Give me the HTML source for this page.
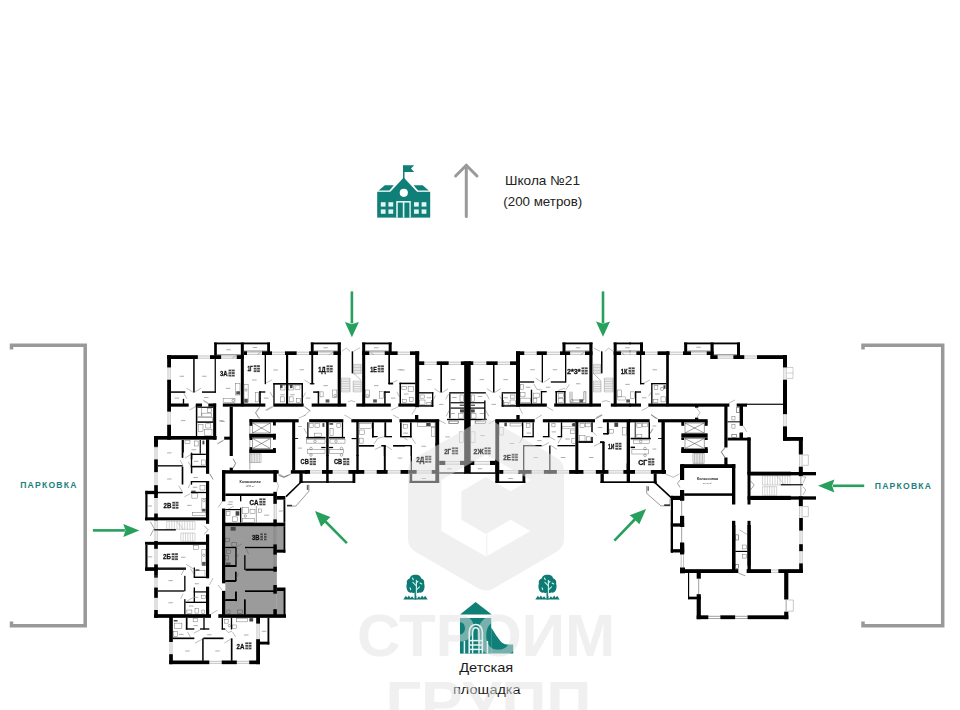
<!DOCTYPE html>
<html lang="ru">
<head>
<meta charset="utf-8">
<title>План этажа</title>
<style>
html,body{margin:0;padding:0;background:#fff;}
body{width:960px;height:710px;overflow:hidden;position:relative;font-family:"Liberation Sans",sans-serif;}
svg{position:absolute;left:0;top:0;display:block;}
svg text{font-family:"Liberation Sans",sans-serif;}
</style>
</head>
<body>
<svg width="960" height="710" viewBox="0 0 960 710">
<rect width="960" height="710" fill="#fff"/>

<!-- parking brackets -->
<g fill="none" stroke="#999" stroke-width="3.5" stroke-linejoin="miter">
<polyline points="11.5,349.5 11.5,345.25 85.2,345.25 85.2,625.75 11.5,625.75 11.5,621.5"/>
<polyline points="863,349.5 863,345.25 942.7,345.25 942.7,625.75 863,625.75 863,621.5"/>
</g>

<!-- parking labels -->
<g font-size="8.6" font-weight="bold" fill="#1b7f7c" letter-spacing="1.22">
<text x="20.2" y="488.4">ПАРКОВКА</text>
<text x="874.8" y="488.6">ПАРКОВКА</text>
</g>

<!-- school -->
<g id="school" fill="#0f7f78">
<rect x="403" y="165.2" width="1.5" height="14"/>
<path d="M404,165.2 L414.2,165.2 L411,168.6 L414.2,172 L404,172 Z"/>
<path d="M403.7,177.4 L389.7,192.6 L417.7,192.6 Z"/>
<path d="M384.8,185.3 L393.8,185.3 L389.4,190.6 L378.6,190.6 Z"/>
<path d="M422.6,185.3 L413.6,185.3 L418,190.6 L428.8,190.6 Z"/>
<rect x="377.2" y="191.8" width="53" height="25.8"/>
<circle cx="403.8" cy="192.8" r="4.1" fill="#fff"/>
<g fill="#e4f6f3">
<rect x="380.8" y="202.2" width="4.8" height="4.4"/><rect x="388.4" y="202.2" width="4.8" height="4.4"/>
<rect x="380.8" y="209.4" width="4.8" height="4.4"/><rect x="388.4" y="209.4" width="4.8" height="4.4"/>
<rect x="414" y="202.2" width="4.8" height="4.4"/><rect x="421.6" y="202.2" width="4.8" height="4.4"/>
<rect x="414" y="209.4" width="4.8" height="4.4"/><rect x="421.6" y="209.4" width="4.8" height="4.4"/>
<rect x="396.2" y="201" width="14.6" height="16.6"/>
</g>
<rect x="397.8" y="202.6" width="5" height="15"/>
<rect x="404.4" y="202.6" width="5" height="15"/>
</g>

<!-- gray up arrow -->
<g fill="none" stroke="#9a9a9a" stroke-width="3" stroke-linecap="round" stroke-linejoin="round">
<line x1="466.3" y1="216.5" x2="466.3" y2="165.5"/>
<polyline points="455.6,176 466.3,165.2 477,176"/>
</g>

<g font-size="13.2" fill="#222">
<text x="542.5" y="184.8" text-anchor="middle" textLength="75" lengthAdjust="spacingAndGlyphs">Школа №21</text>
<text x="542.8" y="205.6" text-anchor="middle" textLength="79" lengthAdjust="spacingAndGlyphs">(200 метров)</text>
</g>

<defs><filter id="soft" x="0" y="0" width="960" height="710" filterUnits="userSpaceOnUse"><feGaussianBlur stdDeviation="0.38"/></filter></defs>
<!-- PLAN -->
<g id="plan" filter="url(#soft)">
<rect x="214.17" y="342.5" width="55.83" height="1.83" fill="#000"/>
<rect x="214.17" y="342.5" width="2.67" height="13" fill="#000"/>
<rect x="267.17" y="342.5" width="2.83" height="12.17" fill="#000"/>
<rect x="240.83" y="342.5" width="3" height="63.83" fill="#000"/>
<line x1="216.83" y1="354.67" x2="240.83" y2="354.67" stroke="#444" stroke-width="0.6"/>
<line x1="243.83" y1="351" x2="267.17" y2="351" stroke="#444" stroke-width="0.6"/>
<rect x="167.17" y="355.17" width="30.67" height="3.83" fill="#000"/>
<rect x="210" y="355.17" width="11.17" height="3.83" fill="#000"/>
<rect x="236.67" y="355.17" width="7.17" height="3.83" fill="#000"/>
<line x1="197.83" y1="356" x2="210" y2="356" stroke="#777" stroke-width="0.45"/>
<line x1="197.83" y1="358.17" x2="210" y2="358.17" stroke="#777" stroke-width="0.45"/>
<line x1="221.17" y1="356" x2="236.67" y2="356" stroke="#777" stroke-width="0.45"/>
<line x1="221.17" y1="358.17" x2="236.67" y2="358.17" stroke="#777" stroke-width="0.45"/>
<rect x="243.83" y="351.33" width="3.17" height="3.67" fill="#000"/>
<rect x="262" y="351.33" width="10" height="3.67" fill="#000"/>
<rect x="285" y="351.33" width="11.67" height="3.67" fill="#000"/>
<line x1="247" y1="352.17" x2="262" y2="352.17" stroke="#777" stroke-width="0.45"/>
<line x1="247" y1="354.33" x2="262" y2="354.33" stroke="#777" stroke-width="0.45"/>
<line x1="272" y1="352.17" x2="285" y2="352.17" stroke="#777" stroke-width="0.45"/>
<line x1="272" y1="354.33" x2="285" y2="354.33" stroke="#777" stroke-width="0.45"/>
<line x1="296.67" y1="352.17" x2="310" y2="352.17" stroke="#777" stroke-width="0.45"/>
<line x1="296.67" y1="354.33" x2="310" y2="354.33" stroke="#777" stroke-width="0.45"/>
<rect x="167.17" y="355.17" width="3.83" height="12.33" fill="#000"/>
<rect x="167.17" y="379.67" width="3.83" height="32" fill="#000"/>
<rect x="167.17" y="424.67" width="3.83" height="15" fill="#000"/>
<line x1="168" y1="367.5" x2="168" y2="379.67" stroke="#777" stroke-width="0.45"/>
<line x1="170.17" y1="367.5" x2="170.17" y2="379.67" stroke="#777" stroke-width="0.45"/>
<line x1="168" y1="411.67" x2="168" y2="424.67" stroke="#777" stroke-width="0.45"/>
<line x1="170.17" y1="411.67" x2="170.17" y2="424.67" stroke="#777" stroke-width="0.45"/>
<rect x="154.17" y="436" width="62.5" height="3.67" fill="#000"/>
<rect x="154.17" y="436" width="3.67" height="11.17" fill="#000"/>
<rect x="193.17" y="359" width="1.5" height="33.5" fill="#000"/>
<rect x="171" y="391.33" width="14.33" height="1.5" fill="#000"/>
<rect x="202" y="391.33" width="13.83" height="1.5" fill="#000"/>
<rect x="182.83" y="398.83" width="1.33" height="5" fill="#000"/>
<rect x="171" y="403.5" width="17.67" height="3.17" fill="#000"/>
<rect x="195.83" y="403.5" width="6.17" height="3.17" fill="#000"/>
<rect x="208.33" y="403.5" width="7.83" height="3.17" fill="#000"/>
<rect x="213.17" y="403.5" width="3" height="36.17" fill="#000"/>
<rect x="195.83" y="404.67" width="1.33" height="31.67" fill="#000"/>
<rect x="197.17" y="421.33" width="16.17" height="1.5" fill="#000"/>
<rect x="197.17" y="406.67" width="16.17" height="1.17" fill="#000"/>
<rect x="222.83" y="403.5" width="42.5" height="3.17" fill="#000"/>
<rect x="273.33" y="403.5" width="30.33" height="3.17" fill="#000"/>
<rect x="229.67" y="406.67" width="3.17" height="49.33" fill="#000"/>
<rect x="224.17" y="436.67" width="5.83" height="3" fill="#000"/>
<rect x="264.67" y="355" width="1.33" height="29.17" fill="#000"/>
<rect x="286" y="355" width="2.17" height="49.67" fill="#000"/>
<rect x="273.33" y="383" width="29.67" height="1.67" fill="#000"/>
<rect x="273.33" y="383" width="1.33" height="20.83" fill="#000"/>
<rect x="301.5" y="383" width="1.5" height="20.83" fill="#000"/>
<rect x="259.17" y="391.33" width="1.67" height="12.5" fill="#000"/>
<rect x="259.17" y="391.33" width="6.17" height="1.33" fill="#000"/>
<rect x="249.5" y="419.17" width="49.17" height="3.17" fill="#000"/>
<rect x="249.5" y="419.17" width="2.67" height="6.67" fill="#000"/>
<rect x="249.5" y="433.83" width="2.67" height="6.17" fill="#000"/>
<rect x="249.5" y="447.17" width="2.67" height="5.83" fill="#000"/>
<line x1="249.83" y1="422.33" x2="249.83" y2="469.67" stroke="#555" stroke-width="0.5"/>
<rect x="249.5" y="433.83" width="26.33" height="3.83" fill="#000"/>
<rect x="249.5" y="449.33" width="26.33" height="3.67" fill="#000"/>
<rect x="273" y="421.33" width="2.83" height="4.17" fill="#000"/>
<rect x="273" y="433.83" width="2.83" height="5.83" fill="#000"/>
<rect x="273" y="448" width="2.83" height="5" fill="#000"/>
<rect x="252.67" y="423" width="17.67" height="10" fill="none" stroke="#444" stroke-width="0.5"/>
<line x1="252.67" y1="423" x2="270.33" y2="433" stroke="#444" stroke-width="0.5"/>
<line x1="252.67" y1="433" x2="270.33" y2="423" stroke="#444" stroke-width="0.5"/>
<rect x="252.67" y="438.5" width="17.67" height="10" fill="none" stroke="#444" stroke-width="0.5"/>
<line x1="252.67" y1="438.5" x2="270.33" y2="448.5" stroke="#444" stroke-width="0.5"/>
<line x1="252.67" y1="448.5" x2="270.33" y2="438.5" stroke="#444" stroke-width="0.5"/>
<rect x="292.17" y="421.33" width="3" height="49.17" fill="#000"/>
<rect x="310.83" y="342.5" width="30" height="1.83" fill="#000"/>
<rect x="310.83" y="342.5" width="2.83" height="12.17" fill="#000"/>
<rect x="337.67" y="342.5" width="3.17" height="63.83" fill="#000"/>
<line x1="313.67" y1="351" x2="337.67" y2="351" stroke="#444" stroke-width="0.6"/>
<rect x="309.17" y="351.33" width="8.83" height="3.67" fill="#000"/>
<rect x="333.33" y="351.33" width="7.5" height="3.67" fill="#000"/>
<line x1="318" y1="352.17" x2="333.33" y2="352.17" stroke="#777" stroke-width="0.45"/>
<line x1="318" y1="354.33" x2="333.33" y2="354.33" stroke="#777" stroke-width="0.45"/>
<rect x="351.67" y="351.33" width="1.5" height="22" fill="#000"/>
<line x1="353.17" y1="364.33" x2="361.17" y2="364.33" stroke="#777" stroke-width="0.4"/>
<line x1="353.17" y1="365.89" x2="361.17" y2="365.89" stroke="#777" stroke-width="0.4"/>
<line x1="353.17" y1="367.44" x2="361.17" y2="367.44" stroke="#777" stroke-width="0.4"/>
<line x1="353.17" y1="369" x2="361.17" y2="369" stroke="#777" stroke-width="0.4"/>
<line x1="353.17" y1="370.56" x2="361.17" y2="370.56" stroke="#777" stroke-width="0.4"/>
<line x1="353.17" y1="372.11" x2="361.17" y2="372.11" stroke="#777" stroke-width="0.4"/>
<line x1="353.17" y1="373.67" x2="361.17" y2="373.67" stroke="#777" stroke-width="0.4"/>
<line x1="353.17" y1="364.33" x2="353.17" y2="373.67" stroke="#777" stroke-width="0.4"/>
<line x1="361.17" y1="364.33" x2="361.17" y2="373.67" stroke="#777" stroke-width="0.4"/>
<line x1="341.33" y1="378.17" x2="350" y2="378.17" stroke="#777" stroke-width="0.4"/>
<line x1="341.33" y1="379.88" x2="350" y2="379.88" stroke="#777" stroke-width="0.4"/>
<line x1="341.33" y1="381.58" x2="350" y2="381.58" stroke="#777" stroke-width="0.4"/>
<line x1="341.33" y1="383.29" x2="350" y2="383.29" stroke="#777" stroke-width="0.4"/>
<line x1="341.33" y1="385" x2="350" y2="385" stroke="#777" stroke-width="0.4"/>
<line x1="341.33" y1="386.71" x2="350" y2="386.71" stroke="#777" stroke-width="0.4"/>
<line x1="341.33" y1="388.42" x2="350" y2="388.42" stroke="#777" stroke-width="0.4"/>
<line x1="341.33" y1="390.12" x2="350" y2="390.12" stroke="#777" stroke-width="0.4"/>
<line x1="341.33" y1="391.83" x2="350" y2="391.83" stroke="#777" stroke-width="0.4"/>
<line x1="341.33" y1="378.17" x2="341.33" y2="391.83" stroke="#777" stroke-width="0.4"/>
<line x1="350" y1="378.17" x2="350" y2="391.83" stroke="#777" stroke-width="0.4"/>
<line x1="353.17" y1="381.17" x2="361.17" y2="381.17" stroke="#777" stroke-width="0.4"/>
<line x1="353.17" y1="382.94" x2="361.17" y2="382.94" stroke="#777" stroke-width="0.4"/>
<line x1="353.17" y1="384.72" x2="361.17" y2="384.72" stroke="#777" stroke-width="0.4"/>
<line x1="353.17" y1="386.5" x2="361.17" y2="386.5" stroke="#777" stroke-width="0.4"/>
<line x1="353.17" y1="388.28" x2="361.17" y2="388.28" stroke="#777" stroke-width="0.4"/>
<line x1="353.17" y1="390.06" x2="361.17" y2="390.06" stroke="#777" stroke-width="0.4"/>
<line x1="353.17" y1="391.83" x2="361.17" y2="391.83" stroke="#777" stroke-width="0.4"/>
<line x1="353.17" y1="381.17" x2="353.17" y2="391.83" stroke="#777" stroke-width="0.4"/>
<line x1="361.17" y1="381.17" x2="361.17" y2="391.83" stroke="#777" stroke-width="0.4"/>
<line x1="353.67" y1="373.33" x2="361.33" y2="380.5" stroke="#555" stroke-width="0.4"/>
<rect x="362.17" y="342.5" width="29.5" height="1.83" fill="#000"/>
<rect x="362.17" y="342.5" width="3" height="63.83" fill="#000"/>
<rect x="388.67" y="342.5" width="3" height="12.17" fill="#000"/>
<line x1="365.17" y1="351" x2="388.67" y2="351" stroke="#444" stroke-width="0.6"/>
<rect x="362.17" y="351.33" width="7.17" height="3.67" fill="#000"/>
<rect x="384.67" y="351.33" width="13" height="3.67" fill="#000"/>
<rect x="410" y="351.33" width="9.17" height="3.67" fill="#000"/>
<line x1="369.33" y1="352.17" x2="384.67" y2="352.17" stroke="#777" stroke-width="0.45"/>
<line x1="369.33" y1="354.33" x2="384.67" y2="354.33" stroke="#777" stroke-width="0.45"/>
<line x1="397.67" y1="352.17" x2="410" y2="352.17" stroke="#777" stroke-width="0.45"/>
<line x1="397.67" y1="354.33" x2="410" y2="354.33" stroke="#777" stroke-width="0.45"/>
<rect x="415.17" y="351.33" width="4" height="55.83" fill="#000"/>
<rect x="418.33" y="361.33" width="6" height="3.67" fill="#000"/>
<rect x="436.67" y="361.33" width="12" height="3.67" fill="#000"/>
<rect x="460.83" y="361.33" width="10" height="3.67" fill="#000"/>
<line x1="424.33" y1="362.17" x2="436.67" y2="362.17" stroke="#777" stroke-width="0.45"/>
<line x1="424.33" y1="364.33" x2="436.67" y2="364.33" stroke="#777" stroke-width="0.45"/>
<line x1="448.67" y1="362.17" x2="460.83" y2="362.17" stroke="#777" stroke-width="0.45"/>
<line x1="448.67" y1="364.33" x2="460.83" y2="364.33" stroke="#777" stroke-width="0.45"/>
<rect x="311.33" y="355" width="1.83" height="29.17" fill="#000"/>
<rect x="313.17" y="391.33" width="6" height="1.5" fill="#000"/>
<rect x="317.67" y="391.33" width="1.5" height="12.5" fill="#000"/>
<rect x="311.67" y="403.5" width="34.67" height="3.17" fill="#000"/>
<rect x="356.33" y="403.5" width="34.5" height="3.17" fill="#000"/>
<rect x="398.33" y="403.5" width="18.33" height="3.17" fill="#000"/>
<rect x="388.33" y="355" width="1.67" height="29.17" fill="#000"/>
<rect x="388.33" y="382.67" width="4.33" height="1.5" fill="#000"/>
<rect x="384.17" y="391.33" width="5.83" height="1.5" fill="#000"/>
<rect x="384.17" y="391.33" width="1.5" height="12.5" fill="#000"/>
<rect x="399.5" y="382.67" width="15.83" height="1.5" fill="#000"/>
<rect x="399.5" y="382.67" width="1.5" height="21.17" fill="#000"/>
<rect x="440.33" y="365" width="1.67" height="27.5" fill="#000"/>
<rect x="418" y="392.17" width="15.33" height="1.33" fill="#000"/>
<rect x="416.67" y="405.17" width="16.67" height="1.5" fill="#000"/>
<rect x="432" y="392.17" width="1.33" height="14.17" fill="#000"/>
<rect x="449.17" y="392.17" width="15" height="1.33" fill="#000"/>
<rect x="449.17" y="393.5" width="1.33" height="24.83" fill="#000"/>
<rect x="450.5" y="402.17" width="13.67" height="1.17" fill="#000"/>
<rect x="450.5" y="407.5" width="13.67" height="1.17" fill="#000"/>
<rect x="447" y="418.83" width="17.17" height="1.33" fill="#000"/>
<rect x="309.17" y="419.17" width="34.17" height="3.17" fill="#000"/>
<rect x="351.33" y="419.17" width="40.67" height="3.17" fill="#000"/>
<rect x="399.5" y="419.17" width="39.67" height="3.17" fill="#000"/>
<rect x="415" y="415" width="3.33" height="4.67" fill="#000"/>
<rect x="326.17" y="421.33" width="2.5" height="34.67" fill="#000"/>
<rect x="356.33" y="421.33" width="2.33" height="34.67" fill="#000"/>
<rect x="372" y="422.33" width="1.33" height="15.17" fill="#000"/>
<rect x="358.67" y="445" width="15.5" height="1.33" fill="#000"/>
<rect x="393.33" y="445" width="18.33" height="1.33" fill="#000"/>
<rect x="384.5" y="422.33" width="1.67" height="14.33" fill="#000"/>
<rect x="383.83" y="445.5" width="1.33" height="10.5" fill="#000"/>
<rect x="400" y="422.33" width="1.67" height="14.33" fill="#000"/>
<rect x="410" y="422.33" width="1.67" height="15.17" fill="#000"/>
<rect x="410.67" y="445.5" width="1.33" height="10.5" fill="#000"/>
<rect x="435.33" y="419.67" width="3.83" height="25" fill="#000"/>
<rect x="351.67" y="438" width="5" height="1.17" fill="#000"/>
<rect x="372" y="436" width="4.67" height="1.33" fill="#000"/>
<rect x="384.5" y="436" width="7.5" height="1.33" fill="#000"/>
<rect x="400" y="436" width="11.67" height="1.33" fill="#000"/>
<rect x="464.17" y="361.33" width="6.5" height="112.5" fill="#000"/>
<rect x="470" y="361.33" width="3.33" height="3.67" fill="#000"/>
<rect x="486.33" y="361.33" width="11.33" height="3.67" fill="#000"/>
<rect x="510" y="361.33" width="10" height="3.67" fill="#000"/>
<line x1="473.33" y1="362.17" x2="486.33" y2="362.17" stroke="#777" stroke-width="0.45"/>
<line x1="473.33" y1="364.33" x2="486.33" y2="364.33" stroke="#777" stroke-width="0.45"/>
<line x1="497.67" y1="362.17" x2="510" y2="362.17" stroke="#777" stroke-width="0.45"/>
<line x1="497.67" y1="364.33" x2="510" y2="364.33" stroke="#777" stroke-width="0.45"/>
<rect x="516" y="351.33" width="4" height="55.33" fill="#000"/>
<rect x="516" y="351.33" width="8.33" height="3.67" fill="#000"/>
<rect x="536.67" y="351.33" width="10.17" height="3.67" fill="#000"/>
<rect x="560" y="351.33" width="10.17" height="3.67" fill="#000"/>
<rect x="585" y="351.33" width="7.5" height="3.67" fill="#000"/>
<line x1="524.33" y1="352.17" x2="536.67" y2="352.17" stroke="#777" stroke-width="0.45"/>
<line x1="524.33" y1="354.33" x2="536.67" y2="354.33" stroke="#777" stroke-width="0.45"/>
<line x1="546.83" y1="352.17" x2="560" y2="352.17" stroke="#777" stroke-width="0.45"/>
<line x1="546.83" y1="354.33" x2="560" y2="354.33" stroke="#777" stroke-width="0.45"/>
<line x1="570.17" y1="352.17" x2="585" y2="352.17" stroke="#777" stroke-width="0.45"/>
<line x1="570.17" y1="354.33" x2="585" y2="354.33" stroke="#777" stroke-width="0.45"/>
<rect x="562.5" y="342.5" width="30" height="1.83" fill="#000"/>
<rect x="562.5" y="342.5" width="3" height="12.17" fill="#000"/>
<rect x="589.33" y="342.5" width="3.17" height="63.83" fill="#000"/>
<line x1="565.5" y1="351" x2="589.33" y2="351" stroke="#444" stroke-width="0.6"/>
<rect x="601" y="351.33" width="1.5" height="22" fill="#000"/>
<line x1="593.33" y1="364.33" x2="600.67" y2="364.33" stroke="#777" stroke-width="0.4"/>
<line x1="593.33" y1="365.89" x2="600.67" y2="365.89" stroke="#777" stroke-width="0.4"/>
<line x1="593.33" y1="367.44" x2="600.67" y2="367.44" stroke="#777" stroke-width="0.4"/>
<line x1="593.33" y1="369" x2="600.67" y2="369" stroke="#777" stroke-width="0.4"/>
<line x1="593.33" y1="370.56" x2="600.67" y2="370.56" stroke="#777" stroke-width="0.4"/>
<line x1="593.33" y1="372.11" x2="600.67" y2="372.11" stroke="#777" stroke-width="0.4"/>
<line x1="593.33" y1="373.67" x2="600.67" y2="373.67" stroke="#777" stroke-width="0.4"/>
<line x1="593.33" y1="364.33" x2="593.33" y2="373.67" stroke="#777" stroke-width="0.4"/>
<line x1="600.67" y1="364.33" x2="600.67" y2="373.67" stroke="#777" stroke-width="0.4"/>
<line x1="593.33" y1="381.17" x2="601" y2="381.17" stroke="#777" stroke-width="0.4"/>
<line x1="593.33" y1="382.94" x2="601" y2="382.94" stroke="#777" stroke-width="0.4"/>
<line x1="593.33" y1="384.72" x2="601" y2="384.72" stroke="#777" stroke-width="0.4"/>
<line x1="593.33" y1="386.5" x2="601" y2="386.5" stroke="#777" stroke-width="0.4"/>
<line x1="593.33" y1="388.28" x2="601" y2="388.28" stroke="#777" stroke-width="0.4"/>
<line x1="593.33" y1="390.06" x2="601" y2="390.06" stroke="#777" stroke-width="0.4"/>
<line x1="593.33" y1="391.83" x2="601" y2="391.83" stroke="#777" stroke-width="0.4"/>
<line x1="593.33" y1="381.17" x2="593.33" y2="391.83" stroke="#777" stroke-width="0.4"/>
<line x1="601" y1="381.17" x2="601" y2="391.83" stroke="#777" stroke-width="0.4"/>
<line x1="604.33" y1="378.17" x2="613" y2="378.17" stroke="#777" stroke-width="0.4"/>
<line x1="604.33" y1="379.88" x2="613" y2="379.88" stroke="#777" stroke-width="0.4"/>
<line x1="604.33" y1="381.58" x2="613" y2="381.58" stroke="#777" stroke-width="0.4"/>
<line x1="604.33" y1="383.29" x2="613" y2="383.29" stroke="#777" stroke-width="0.4"/>
<line x1="604.33" y1="385" x2="613" y2="385" stroke="#777" stroke-width="0.4"/>
<line x1="604.33" y1="386.71" x2="613" y2="386.71" stroke="#777" stroke-width="0.4"/>
<line x1="604.33" y1="388.42" x2="613" y2="388.42" stroke="#777" stroke-width="0.4"/>
<line x1="604.33" y1="390.12" x2="613" y2="390.12" stroke="#777" stroke-width="0.4"/>
<line x1="604.33" y1="391.83" x2="613" y2="391.83" stroke="#777" stroke-width="0.4"/>
<line x1="604.33" y1="378.17" x2="604.33" y2="391.83" stroke="#777" stroke-width="0.4"/>
<line x1="613" y1="378.17" x2="613" y2="391.83" stroke="#777" stroke-width="0.4"/>
<line x1="593.33" y1="373.33" x2="600.67" y2="380.5" stroke="#555" stroke-width="0.4"/>
<rect x="613.67" y="342.5" width="17.17" height="1.83" fill="#000"/>
<rect x="613.67" y="342.5" width="3" height="63.83" fill="#000"/>
<rect x="613.67" y="351.33" width="7.33" height="3.67" fill="#000"/>
<line x1="621" y1="352.17" x2="630.83" y2="352.17" stroke="#777" stroke-width="0.45"/>
<line x1="621" y1="354.33" x2="630.83" y2="354.33" stroke="#777" stroke-width="0.45"/>
<line x1="616.67" y1="351" x2="630.83" y2="351" stroke="#444" stroke-width="0.6"/>
<rect x="493" y="365" width="1.5" height="27.5" fill="#000"/>
<rect x="470" y="392.17" width="15.83" height="1.33" fill="#000"/>
<rect x="501.67" y="392.17" width="14.33" height="1.33" fill="#000"/>
<rect x="501.67" y="393.5" width="1.33" height="12.83" fill="#000"/>
<rect x="501.67" y="405.17" width="18.33" height="1.5" fill="#000"/>
<rect x="470" y="402.17" width="15" height="1.17" fill="#000"/>
<rect x="470" y="407.5" width="15" height="1.17" fill="#000"/>
<rect x="484.17" y="400.5" width="1.33" height="18.67" fill="#000"/>
<rect x="470" y="418.83" width="17" height="1.33" fill="#000"/>
<rect x="541.67" y="355" width="1.33" height="27.5" fill="#000"/>
<rect x="565" y="355" width="1.33" height="27.5" fill="#000"/>
<rect x="520" y="381.33" width="14.17" height="1.33" fill="#000"/>
<rect x="550.83" y="381.33" width="15.17" height="1.33" fill="#000"/>
<rect x="530.83" y="389.67" width="1.33" height="14.17" fill="#000"/>
<rect x="540.83" y="391.33" width="1.33" height="12.5" fill="#000"/>
<rect x="540.83" y="391" width="5.83" height="1.33" fill="#000"/>
<rect x="555.5" y="391" width="1.5" height="12.83" fill="#000"/>
<rect x="564.17" y="391" width="1.33" height="12.83" fill="#000"/>
<rect x="555.5" y="391" width="10" height="1.33" fill="#000"/>
<polyline points="570,391.67 570,402.67 585.83,402.67 585.83,391.67 583.83,391.67 583.83,400 572,400 572,391.67" stroke="#444" stroke-width="0.5" fill="none"/>
<rect x="518.33" y="403.5" width="28.5" height="3.17" fill="#000"/>
<rect x="554.17" y="403.5" width="46.83" height="3.17" fill="#000"/>
<rect x="610.83" y="403.5" width="20" height="3.17" fill="#000"/>
<rect x="495.33" y="419.17" width="39.33" height="3.17" fill="#000"/>
<rect x="542.83" y="419.17" width="52.17" height="3.17" fill="#000"/>
<rect x="602.83" y="419.17" width="28" height="3.17" fill="#000"/>
<rect x="516.33" y="415" width="3.33" height="4.67" fill="#000"/>
<rect x="495.33" y="419.67" width="3.83" height="54.17" fill="#000"/>
<rect x="522" y="422.33" width="1.33" height="15.17" fill="#000"/>
<rect x="532.5" y="422.33" width="1.33" height="14.33" fill="#000"/>
<rect x="523.33" y="436" width="10.5" height="1.33" fill="#000"/>
<rect x="548" y="422.33" width="1.5" height="14.33" fill="#000"/>
<rect x="560.83" y="422.33" width="1.33" height="14.33" fill="#000"/>
<rect x="575.33" y="421.33" width="3" height="52.5" fill="#000"/>
<rect x="626.67" y="419.67" width="3.33" height="54.17" fill="#000"/>
<rect x="542.83" y="436" width="6.67" height="1.33" fill="#000"/>
<rect x="557.5" y="436" width="4.67" height="1.33" fill="#000"/>
<rect x="578.33" y="441.33" width="14.17" height="1.33" fill="#000"/>
<rect x="603.33" y="442.17" width="1.33" height="31.67" fill="#000"/>
<rect x="600" y="441.67" width="4.67" height="1.33" fill="#000"/>
<rect x="607.5" y="422.33" width="1.33" height="11.83" fill="#000"/>
<rect x="603.33" y="433" width="5.5" height="1.33" fill="#000"/>
<rect x="523" y="445" width="18.67" height="1.33" fill="#000"/>
<rect x="557.5" y="445" width="17.83" height="1.33" fill="#000"/>
<rect x="523" y="445.5" width="1.33" height="28.33" fill="#000"/>
<rect x="549.17" y="445.5" width="1.33" height="28.33" fill="#000"/>
<rect x="629.17" y="342.5" width="13.83" height="1.83" fill="#000"/>
<rect x="640" y="342.5" width="3" height="12.17" fill="#000"/>
<line x1="629.17" y1="351" x2="640" y2="351" stroke="#444" stroke-width="0.6"/>
<rect x="636.33" y="351.33" width="8.67" height="3.67" fill="#000"/>
<rect x="657.5" y="351.33" width="12.17" height="3.67" fill="#000"/>
<rect x="683" y="351.33" width="8" height="3.67" fill="#000"/>
<rect x="706.67" y="351.33" width="7" height="3.67" fill="#000"/>
<line x1="629.17" y1="352.17" x2="636.33" y2="352.17" stroke="#777" stroke-width="0.45"/>
<line x1="629.17" y1="354.33" x2="636.33" y2="354.33" stroke="#777" stroke-width="0.45"/>
<line x1="645" y1="352.17" x2="657.5" y2="352.17" stroke="#777" stroke-width="0.45"/>
<line x1="645" y1="354.33" x2="657.5" y2="354.33" stroke="#777" stroke-width="0.45"/>
<line x1="669.67" y1="352.17" x2="683" y2="352.17" stroke="#777" stroke-width="0.45"/>
<line x1="669.67" y1="354.33" x2="683" y2="354.33" stroke="#777" stroke-width="0.45"/>
<line x1="691" y1="352.17" x2="706.67" y2="352.17" stroke="#777" stroke-width="0.45"/>
<line x1="691" y1="354.33" x2="706.67" y2="354.33" stroke="#777" stroke-width="0.45"/>
<rect x="666.17" y="351.33" width="2.67" height="55" fill="#000"/>
<rect x="684.17" y="342.5" width="55.83" height="1.83" fill="#000"/>
<rect x="684.17" y="342.5" width="3" height="12.17" fill="#000"/>
<rect x="710.5" y="342.5" width="3.17" height="16.5" fill="#000"/>
<rect x="737" y="342.5" width="3" height="13.83" fill="#000"/>
<line x1="687.17" y1="351" x2="710.5" y2="351" stroke="#444" stroke-width="0.6"/>
<line x1="713.67" y1="354.67" x2="737" y2="354.67" stroke="#444" stroke-width="0.6"/>
<rect x="710.5" y="355.17" width="7.17" height="3.83" fill="#000"/>
<rect x="733.33" y="355.17" width="11" height="3.83" fill="#000"/>
<rect x="757" y="355.17" width="30" height="3.83" fill="#000"/>
<line x1="717.67" y1="356" x2="733.33" y2="356" stroke="#777" stroke-width="0.45"/>
<line x1="717.67" y1="358.17" x2="733.33" y2="358.17" stroke="#777" stroke-width="0.45"/>
<line x1="744.33" y1="356" x2="757" y2="356" stroke="#777" stroke-width="0.45"/>
<line x1="744.33" y1="358.17" x2="757" y2="358.17" stroke="#777" stroke-width="0.45"/>
<rect x="783" y="355.17" width="4" height="12.33" fill="#000"/>
<rect x="783" y="379.67" width="4" height="34.5" fill="#000"/>
<rect x="783" y="426.33" width="4" height="14.17" fill="#000"/>
<line x1="783.83" y1="367.5" x2="783.83" y2="379.67" stroke="#777" stroke-width="0.45"/>
<line x1="786.17" y1="367.5" x2="786.17" y2="379.67" stroke="#777" stroke-width="0.45"/>
<line x1="783.83" y1="414.17" x2="783.83" y2="426.33" stroke="#777" stroke-width="0.45"/>
<line x1="786.17" y1="414.17" x2="786.17" y2="426.33" stroke="#777" stroke-width="0.45"/>
<rect x="783" y="437.17" width="7.83" height="3.33" fill="#000"/>
<rect x="640" y="355" width="1.33" height="29.17" fill="#000"/>
<rect x="640" y="383" width="4.33" height="1.33" fill="#000"/>
<rect x="651.17" y="383" width="15" height="1.33" fill="#000"/>
<rect x="651.17" y="383" width="1.33" height="20.83" fill="#000"/>
<rect x="635" y="391.33" width="6" height="1.33" fill="#000"/>
<rect x="635" y="391.33" width="1.33" height="12.5" fill="#000"/>
<rect x="629.17" y="403.5" width="11.83" height="3.17" fill="#000"/>
<rect x="648.33" y="403.5" width="81" height="3.17" fill="#000"/>
<rect x="736.67" y="403.5" width="10.33" height="3.17" fill="#000"/>
<rect x="746.67" y="403.67" width="36.67" height="1.17" fill="#000"/>
<rect x="724.33" y="404.67" width="3.17" height="42.83" fill="#000"/>
<rect x="739.67" y="404.67" width="3.33" height="21.17" fill="#000"/>
<rect x="739.67" y="433" width="3.33" height="7" fill="#000"/>
<rect x="727.5" y="437.67" width="23" height="2.83" fill="#000"/>
<rect x="747.5" y="437.67" width="3" height="36.17" fill="#000"/>
<rect x="727.5" y="421.33" width="12.5" height="1" fill="#000"/>
<rect x="658" y="419.17" width="49.67" height="3.17" fill="#000"/>
<rect x="661.67" y="421.33" width="2.83" height="52.5" fill="#000"/>
<rect x="681.33" y="421.33" width="2.83" height="4.5" fill="#000"/>
<rect x="704.67" y="421.33" width="3" height="4.5" fill="#000"/>
<rect x="681.33" y="433.33" width="26.33" height="4.33" fill="#000"/>
<rect x="681.33" y="437.67" width="2.83" height="2.33" fill="#000"/>
<rect x="704.67" y="437.67" width="3" height="2.33" fill="#000"/>
<rect x="681.33" y="448.83" width="26.33" height="4.17" fill="#000"/>
<rect x="681.33" y="447.17" width="2.83" height="5.83" fill="#000"/>
<rect x="704.67" y="447.17" width="3" height="5.83" fill="#000"/>
<rect x="685" y="423" width="19.17" height="10" fill="none" stroke="#444" stroke-width="0.5"/>
<line x1="685" y1="423" x2="704.17" y2="433" stroke="#444" stroke-width="0.5"/>
<line x1="685" y1="433" x2="704.17" y2="423" stroke="#444" stroke-width="0.5"/>
<rect x="685" y="438.5" width="19.17" height="10" fill="none" stroke="#444" stroke-width="0.5"/>
<line x1="685" y1="438.5" x2="704.17" y2="448.5" stroke="#444" stroke-width="0.5"/>
<line x1="685" y1="448.5" x2="704.17" y2="438.5" stroke="#444" stroke-width="0.5"/>
<rect x="695" y="405.5" width="3.33" height="2.17" fill="#000"/>
<rect x="695" y="417.67" width="3.33" height="2" fill="#000"/>
<rect x="629.17" y="419.17" width="20.5" height="3.17" fill="#000"/>
<rect x="225.33" y="526" width="51.5" height="88.33" fill="#9b9b9b"/>
<rect x="276.67" y="526" width="7" height="24.17" fill="#9b9b9b"/>
<rect x="276.67" y="589.33" width="7" height="25" fill="#9b9b9b"/>
<rect x="154.17" y="437.67" width="3.67" height="8.33" fill="#000"/>
<rect x="154.17" y="459.33" width="3.67" height="12.83" fill="#000"/>
<rect x="154.17" y="485.17" width="3.67" height="12.83" fill="#000"/>
<rect x="154.17" y="513.5" width="3.67" height="7" fill="#000"/>
<rect x="154.17" y="541" width="3.67" height="7.83" fill="#000"/>
<rect x="154.17" y="564.33" width="3.67" height="13.33" fill="#000"/>
<line x1="155" y1="446" x2="155" y2="459.33" stroke="#777" stroke-width="0.45"/>
<line x1="157" y1="446" x2="157" y2="459.33" stroke="#777" stroke-width="0.45"/>
<line x1="155" y1="472.17" x2="155" y2="485.17" stroke="#777" stroke-width="0.45"/>
<line x1="157" y1="472.17" x2="157" y2="485.17" stroke="#777" stroke-width="0.45"/>
<line x1="155" y1="498" x2="155" y2="513.5" stroke="#777" stroke-width="0.45"/>
<line x1="157" y1="498" x2="157" y2="513.5" stroke="#777" stroke-width="0.45"/>
<line x1="155" y1="548.83" x2="155" y2="564.33" stroke="#777" stroke-width="0.45"/>
<line x1="157" y1="548.83" x2="157" y2="564.33" stroke="#777" stroke-width="0.45"/>
<rect x="206" y="439.33" width="3.17" height="34.5" fill="#000"/>
<rect x="206" y="481" width="3.17" height="42.83" fill="#000"/>
<rect x="206" y="534.33" width="3.17" height="44" fill="#000"/>
<rect x="157.83" y="465.17" width="24.83" height="1.33" fill="#000"/>
<rect x="157.83" y="491.83" width="24.83" height="1.5" fill="#000"/>
<rect x="145" y="517.33" width="62.67" height="3" fill="#000"/>
<rect x="145" y="541.83" width="62.67" height="3" fill="#000"/>
<rect x="157.83" y="568.5" width="28.17" height="1.33" fill="#000"/>
<rect x="190.83" y="452.67" width="1.33" height="13.67" fill="#000"/>
<rect x="190.83" y="466" width="15.83" height="1.33" fill="#000"/>
<rect x="190.83" y="481" width="15.83" height="1.33" fill="#000"/>
<rect x="190.83" y="481" width="1.33" height="3.67" fill="#000"/>
<rect x="190.83" y="491.83" width="15.17" height="1.33" fill="#000"/>
<line x1="166.67" y1="521.33" x2="166.67" y2="529.33" stroke="#888" stroke-width="0.35"/>
<line x1="169.24" y1="521.33" x2="169.24" y2="529.33" stroke="#888" stroke-width="0.35"/>
<line x1="171.82" y1="521.33" x2="171.82" y2="529.33" stroke="#888" stroke-width="0.35"/>
<line x1="174.39" y1="521.33" x2="174.39" y2="529.33" stroke="#888" stroke-width="0.35"/>
<line x1="176.97" y1="521.33" x2="176.97" y2="529.33" stroke="#888" stroke-width="0.35"/>
<line x1="179.55" y1="521.33" x2="179.55" y2="529.33" stroke="#888" stroke-width="0.35"/>
<line x1="182.12" y1="521.33" x2="182.12" y2="529.33" stroke="#888" stroke-width="0.35"/>
<line x1="184.7" y1="521.33" x2="184.7" y2="529.33" stroke="#888" stroke-width="0.35"/>
<line x1="187.27" y1="521.33" x2="187.27" y2="529.33" stroke="#888" stroke-width="0.35"/>
<line x1="189.85" y1="521.33" x2="189.85" y2="529.33" stroke="#888" stroke-width="0.35"/>
<line x1="192.42" y1="521.33" x2="192.42" y2="529.33" stroke="#888" stroke-width="0.35"/>
<line x1="195" y1="521.33" x2="195" y2="529.33" stroke="#888" stroke-width="0.35"/>
<line x1="166.67" y1="521.33" x2="195" y2="521.33" stroke="#888" stroke-width="0.35"/>
<line x1="166.67" y1="529.33" x2="195" y2="529.33" stroke="#888" stroke-width="0.35"/>
<line x1="180.83" y1="533" x2="180.83" y2="541.33" stroke="#888" stroke-width="0.35"/>
<line x1="183.19" y1="533" x2="183.19" y2="541.33" stroke="#888" stroke-width="0.35"/>
<line x1="185.56" y1="533" x2="185.56" y2="541.33" stroke="#888" stroke-width="0.35"/>
<line x1="187.92" y1="533" x2="187.92" y2="541.33" stroke="#888" stroke-width="0.35"/>
<line x1="190.28" y1="533" x2="190.28" y2="541.33" stroke="#888" stroke-width="0.35"/>
<line x1="192.64" y1="533" x2="192.64" y2="541.33" stroke="#888" stroke-width="0.35"/>
<line x1="195" y1="533" x2="195" y2="541.33" stroke="#888" stroke-width="0.35"/>
<line x1="180.83" y1="533" x2="195" y2="533" stroke="#888" stroke-width="0.35"/>
<line x1="180.83" y1="541.33" x2="195" y2="541.33" stroke="#888" stroke-width="0.35"/>
<line x1="176.67" y1="521.33" x2="183.33" y2="529.33" stroke="#888" stroke-width="0.35"/>
<rect x="222" y="470.17" width="56.67" height="3.5" fill="#000"/>
<rect x="222" y="470.17" width="3.33" height="31.17" fill="#000"/>
<rect x="222" y="508.5" width="3.33" height="74.83" fill="#000"/>
<rect x="273.33" y="470.17" width="3.5" height="12" fill="#000"/>
<rect x="273.33" y="491.83" width="3.5" height="12" fill="#000"/>
<rect x="273.33" y="519.33" width="3.5" height="7" fill="#000"/>
<rect x="273.33" y="544.33" width="3.5" height="10.33" fill="#000"/>
<rect x="273.33" y="566.67" width="3.5" height="5" fill="#000"/>
<rect x="225.33" y="493.5" width="51.33" height="2.5" fill="#000"/>
<rect x="222" y="522.67" width="63.33" height="3.5" fill="#000"/>
<rect x="276.67" y="496" width="8.67" height="3.67" fill="#000"/>
<rect x="283.5" y="499.67" width="1.83" height="23" fill="#000"/>
<rect x="283.5" y="526.17" width="1.83" height="26.5" fill="#000"/>
<rect x="276.67" y="549.67" width="8.67" height="3" fill="#000"/>
<rect x="240" y="496" width="1.33" height="5.33" fill="#000"/>
<rect x="240" y="507.67" width="1.33" height="15" fill="#000"/>
<line x1="256.33" y1="506" x2="256.33" y2="522.67" stroke="#555" stroke-width="0.5"/>
<rect x="225.33" y="509" width="14.67" height="1.17" fill="#000"/>
<rect x="225.33" y="546.83" width="10.67" height="1.33" fill="#000"/>
<rect x="245" y="546.83" width="29.17" height="1.33" fill="#000"/>
<rect x="235.33" y="547.33" width="1.33" height="19.33" fill="#000"/>
<rect x="244.17" y="555.17" width="1.33" height="14.83" fill="#000"/>
<rect x="245.5" y="569.33" width="28.67" height="1.33" fill="#000"/>
<rect x="225.33" y="565.17" width="10.67" height="1.17" fill="#000"/>
<rect x="229.67" y="467.67" width="3.17" height="3.33" fill="#000"/>
<rect x="290.83" y="470.17" width="16.17" height="3.5" fill="#000"/>
<rect x="300" y="473.5" width="2.67" height="9.5" fill="#000"/>
<polyline points="278.33,475.17 283.33,477.33 288.33,475.17" stroke="#444" stroke-width="0.5" fill="none"/>
<rect x="154.17" y="587.5" width="3.67" height="10.33" fill="#000"/>
<rect x="154.17" y="610" width="3.67" height="7.83" fill="#000"/>
<line x1="155" y1="575" x2="155" y2="587.5" stroke="#777" stroke-width="0.45"/>
<line x1="157" y1="575" x2="157" y2="587.5" stroke="#777" stroke-width="0.45"/>
<line x1="155" y1="597.83" x2="155" y2="610" stroke="#777" stroke-width="0.45"/>
<line x1="157" y1="597.83" x2="157" y2="610" stroke="#777" stroke-width="0.45"/>
<rect x="145" y="567.5" width="12.83" height="2.83" fill="#000"/>
<rect x="154.17" y="614.17" width="56.83" height="3.67" fill="#000"/>
<rect x="206" y="586.67" width="3.17" height="28.33" fill="#000"/>
<rect x="157.83" y="567.5" width="28.17" height="1.33" fill="#000"/>
<rect x="157.83" y="590.33" width="26.5" height="1.33" fill="#000"/>
<rect x="184.17" y="575.83" width="1.33" height="15.33" fill="#000"/>
<rect x="184.17" y="599.17" width="1.33" height="15.33" fill="#000"/>
<rect x="193.67" y="587.5" width="1.33" height="14.5" fill="#000"/>
<rect x="193.67" y="591.33" width="12.33" height="1.17" fill="#000"/>
<rect x="185.5" y="601.67" width="20.5" height="1.33" fill="#000"/>
<rect x="193.67" y="576.67" width="12.33" height="1.33" fill="#000"/>
<rect x="193.67" y="567.5" width="1.33" height="9.5" fill="#000"/>
<rect x="169.17" y="616.67" width="3.67" height="25.33" fill="#000"/>
<rect x="169.17" y="654.17" width="3.67" height="10" fill="#000"/>
<line x1="170" y1="642" x2="170" y2="654.17" stroke="#777" stroke-width="0.45"/>
<line x1="172" y1="642" x2="172" y2="654.17" stroke="#777" stroke-width="0.45"/>
<rect x="169.17" y="660.5" width="40.17" height="3.67" fill="#000"/>
<rect x="221.67" y="660.5" width="15.17" height="3.67" fill="#000"/>
<rect x="249.17" y="660.5" width="10.83" height="3.67" fill="#000"/>
<line x1="209.33" y1="661.33" x2="221.67" y2="661.33" stroke="#777" stroke-width="0.45"/>
<line x1="209.33" y1="663.33" x2="221.67" y2="663.33" stroke="#777" stroke-width="0.45"/>
<line x1="236.83" y1="661.33" x2="249.17" y2="661.33" stroke="#777" stroke-width="0.45"/>
<line x1="236.83" y1="663.33" x2="249.17" y2="663.33" stroke="#777" stroke-width="0.45"/>
<rect x="256.17" y="616.67" width="3.83" height="7" fill="#000"/>
<rect x="256.17" y="639.17" width="3.83" height="25" fill="#000"/>
<line x1="257" y1="623.67" x2="257" y2="639.17" stroke="#777" stroke-width="0.45"/>
<line x1="259.17" y1="623.67" x2="259.17" y2="639.17" stroke="#777" stroke-width="0.45"/>
<rect x="260" y="641.67" width="9.33" height="2.83" fill="#000"/>
<rect x="267.5" y="617.83" width="1.83" height="26.67" fill="#000"/>
<rect x="185.83" y="617.83" width="1.67" height="11.67" fill="#000"/>
<rect x="185.83" y="628.33" width="8.5" height="1.33" fill="#000"/>
<rect x="200" y="628.33" width="9.33" height="1.33" fill="#000"/>
<rect x="203.33" y="617.83" width="1.33" height="11.67" fill="#000"/>
<rect x="172.83" y="637.5" width="21.5" height="1.67" fill="#000"/>
<rect x="203.33" y="637.5" width="20.17" height="1.67" fill="#000"/>
<rect x="202.17" y="638.33" width="1.5" height="22.5" fill="#000"/>
<rect x="230.83" y="638.33" width="1.67" height="22.5" fill="#000"/>
<rect x="221.67" y="617.83" width="1.33" height="11.67" fill="#000"/>
<rect x="230.83" y="617.83" width="1.33" height="11.67" fill="#000"/>
<rect x="221.67" y="628.33" width="3.5" height="1.33" fill="#000"/>
<rect x="222" y="590.83" width="3.33" height="24.17" fill="#000"/>
<rect x="218.33" y="614.17" width="67.67" height="3.67" fill="#000"/>
<rect x="273.33" y="585" width="3.5" height="8.67" fill="#000"/>
<rect x="273.33" y="609.17" width="3.5" height="5.83" fill="#000"/>
<rect x="276.83" y="587.5" width="8.67" height="3.5" fill="#000"/>
<rect x="283.5" y="591" width="2" height="24" fill="#000"/>
<rect x="245" y="590.33" width="29.17" height="1.67" fill="#000"/>
<rect x="244.17" y="599.17" width="1.33" height="15.33" fill="#000"/>
<rect x="235.33" y="591.67" width="1.33" height="9.5" fill="#000"/>
<rect x="225.33" y="580" width="10.67" height="1.33" fill="#000"/>
<rect x="225.33" y="599.17" width="11.33" height="1.67" fill="#000"/>
<rect x="225.33" y="565" width="10.67" height="1.33" fill="#000"/>
<rect x="326.17" y="455" width="2.5" height="28" fill="#000"/>
<rect x="356.33" y="455" width="2.33" height="18.67" fill="#000"/>
<rect x="383.83" y="445.83" width="1.5" height="24.5" fill="#000"/>
<rect x="410.67" y="445.83" width="1.33" height="24.5" fill="#000"/>
<rect x="435.33" y="443.33" width="3.83" height="39.67" fill="#000"/>
<rect x="322" y="470" width="10.67" height="3.83" fill="#000"/>
<rect x="348.33" y="470" width="16" height="3.83" fill="#000"/>
<rect x="376.67" y="470" width="11" height="3.83" fill="#000"/>
<rect x="400.5" y="470" width="16.17" height="3.83" fill="#000"/>
<rect x="431.67" y="470" width="7.5" height="3.83" fill="#000"/>
<rect x="305" y="470" width="5" height="3.83" fill="#000"/>
<line x1="310" y1="470.83" x2="322" y2="470.83" stroke="#777" stroke-width="0.45"/>
<line x1="310" y1="473" x2="322" y2="473" stroke="#777" stroke-width="0.45"/>
<line x1="332.67" y1="470.83" x2="348.33" y2="470.83" stroke="#777" stroke-width="0.45"/>
<line x1="332.67" y1="473" x2="348.33" y2="473" stroke="#777" stroke-width="0.45"/>
<line x1="364.33" y1="470.83" x2="376.67" y2="470.83" stroke="#777" stroke-width="0.45"/>
<line x1="364.33" y1="473" x2="376.67" y2="473" stroke="#777" stroke-width="0.45"/>
<line x1="387.67" y1="470.83" x2="400.5" y2="470.83" stroke="#777" stroke-width="0.45"/>
<line x1="387.67" y1="473" x2="400.5" y2="473" stroke="#777" stroke-width="0.45"/>
<line x1="416.67" y1="470.83" x2="431.67" y2="470.83" stroke="#777" stroke-width="0.45"/>
<line x1="416.67" y1="473" x2="431.67" y2="473" stroke="#777" stroke-width="0.45"/>
<rect x="352.5" y="470" width="2.83" height="13" fill="#000"/>
<rect x="409.67" y="473.67" width="2.5" height="9.33" fill="#000"/>
<rect x="409.67" y="480.83" width="29.5" height="2.17" fill="#000"/>
<rect x="439.17" y="460.83" width="6.17" height="4.17" fill="#000"/>
<rect x="460" y="460.83" width="5" height="4.17" fill="#000"/>
<line x1="445.33" y1="461.67" x2="460" y2="461.67" stroke="#777" stroke-width="0.45"/>
<line x1="445.33" y1="464.17" x2="460" y2="464.17" stroke="#777" stroke-width="0.45"/>
<rect x="439.17" y="472.33" width="25.83" height="1.33" fill="#000"/>
<rect x="470" y="460.83" width="4.33" height="4.17" fill="#000"/>
<rect x="490" y="460.83" width="5.33" height="4.17" fill="#000"/>
<line x1="474.33" y1="461.67" x2="490" y2="461.67" stroke="#777" stroke-width="0.45"/>
<line x1="474.33" y1="464.17" x2="490" y2="464.17" stroke="#777" stroke-width="0.45"/>
<rect x="470" y="472.33" width="25.33" height="1.5" fill="#000"/>
<rect x="495.33" y="459.17" width="3.83" height="23.83" fill="#000"/>
<rect x="495.33" y="481.33" width="30" height="1.67" fill="#000"/>
<rect x="522.5" y="471.67" width="2.83" height="11.33" fill="#000"/>
<rect x="499.17" y="470" width="4.17" height="3.83" fill="#000"/>
<rect x="518.33" y="470" width="13.33" height="3.83" fill="#000"/>
<rect x="543.83" y="470" width="13" height="3.83" fill="#000"/>
<rect x="569.17" y="470" width="14.33" height="3.83" fill="#000"/>
<rect x="595.83" y="470" width="12.67" height="3.83" fill="#000"/>
<rect x="623.33" y="470" width="6.67" height="3.83" fill="#000"/>
<line x1="503.33" y1="470.83" x2="518.33" y2="470.83" stroke="#777" stroke-width="0.45"/>
<line x1="503.33" y1="473" x2="518.33" y2="473" stroke="#777" stroke-width="0.45"/>
<line x1="531.67" y1="470.83" x2="543.83" y2="470.83" stroke="#777" stroke-width="0.45"/>
<line x1="531.67" y1="473" x2="543.83" y2="473" stroke="#777" stroke-width="0.45"/>
<line x1="556.83" y1="470.83" x2="569.17" y2="470.83" stroke="#777" stroke-width="0.45"/>
<line x1="556.83" y1="473" x2="569.17" y2="473" stroke="#777" stroke-width="0.45"/>
<line x1="583.5" y1="470.83" x2="595.83" y2="470.83" stroke="#777" stroke-width="0.45"/>
<line x1="583.5" y1="473" x2="595.83" y2="473" stroke="#777" stroke-width="0.45"/>
<line x1="608.5" y1="470.83" x2="623.33" y2="470.83" stroke="#777" stroke-width="0.45"/>
<line x1="608.5" y1="473" x2="623.33" y2="473" stroke="#777" stroke-width="0.45"/>
<rect x="626.67" y="463.33" width="3.33" height="19.67" fill="#000"/>
<rect x="600.5" y="473.83" width="3.33" height="9.17" fill="#000"/>
<rect x="600.5" y="481.33" width="29.5" height="1.67" fill="#000"/>
<rect x="602.5" y="441.67" width="1.33" height="28.67" fill="#000"/>
<rect x="600" y="441.33" width="3.83" height="1.33" fill="#000"/>
<rect x="661.67" y="421.67" width="3" height="50.33" fill="#000"/>
<rect x="630" y="470" width="5" height="3.83" fill="#000"/>
<rect x="650.83" y="470" width="15.17" height="3.83" fill="#000"/>
<line x1="635" y1="470.83" x2="650.83" y2="470.83" stroke="#777" stroke-width="0.45"/>
<line x1="635" y1="473" x2="650.83" y2="473" stroke="#777" stroke-width="0.45"/>
<rect x="629.17" y="481.33" width="27.5" height="1.67" fill="#000"/>
<rect x="653.67" y="473.67" width="3" height="9.67" fill="#000"/>
<line x1="655" y1="482.67" x2="672" y2="498.33" stroke="#000" stroke-width="1.6"/>
<polyline points="646.67,485.83 646.67,493.33 660.83,505.83 670,505.83 670,499.17" stroke="#333" stroke-width="0.5" fill="none"/>
<rect x="647.5" y="486.33" width="1.33" height="4.5" fill="#555"/>
<rect x="664.17" y="504.33" width="5.83" height="1.67" fill="#333"/>
<polyline points="680,480 677.5,483.33 680,487.5" stroke="#444" stroke-width="0.5" fill="none"/>
<line x1="693" y1="453.33" x2="693" y2="463.33" stroke="#555" stroke-width="0.4"/>
<line x1="694.6" y1="453.33" x2="694.6" y2="463.33" stroke="#555" stroke-width="0.4"/>
<line x1="696.19" y1="453.33" x2="696.19" y2="463.33" stroke="#555" stroke-width="0.4"/>
<line x1="697.79" y1="453.33" x2="697.79" y2="463.33" stroke="#555" stroke-width="0.4"/>
<line x1="699.38" y1="453.33" x2="699.38" y2="463.33" stroke="#555" stroke-width="0.4"/>
<line x1="700.98" y1="453.33" x2="700.98" y2="463.33" stroke="#555" stroke-width="0.4"/>
<line x1="702.57" y1="453.33" x2="702.57" y2="463.33" stroke="#555" stroke-width="0.4"/>
<line x1="704.17" y1="453.33" x2="704.17" y2="463.33" stroke="#555" stroke-width="0.4"/>
<line x1="693" y1="453.33" x2="704.17" y2="453.33" stroke="#555" stroke-width="0.4"/>
<line x1="693" y1="463.33" x2="704.17" y2="463.33" stroke="#555" stroke-width="0.4"/>
<rect x="724.33" y="457.5" width="3.17" height="7.83" fill="#000"/>
<polyline points="725,447.5 721.33,451.67 725,457.5" stroke="#444" stroke-width="0.5" fill="none"/>
<rect x="739.67" y="432.5" width="3.33" height="5.33" fill="#000"/>
<rect x="747.5" y="437.5" width="3" height="67" fill="#000"/>
<rect x="681.33" y="464.17" width="54" height="3.83" fill="#000"/>
<rect x="680" y="464.17" width="4.17" height="15.83" fill="#000"/>
<rect x="680" y="490" width="4.17" height="10.83" fill="#000"/>
<rect x="732" y="464.17" width="3.33" height="40.33" fill="#000"/>
<rect x="684.17" y="493.33" width="47.83" height="2.5" fill="#000"/>
<rect x="670.83" y="495.83" width="13.33" height="4.17" fill="#000"/>
<rect x="750.5" y="471.67" width="40.33" height="3.67" fill="#000"/>
<rect x="750.5" y="495.83" width="40.33" height="4.17" fill="#000"/>
<line x1="762.5" y1="475.83" x2="762.5" y2="485" stroke="#888" stroke-width="0.35"/>
<line x1="765" y1="475.83" x2="765" y2="485" stroke="#888" stroke-width="0.35"/>
<line x1="767.5" y1="475.83" x2="767.5" y2="485" stroke="#888" stroke-width="0.35"/>
<line x1="770" y1="475.83" x2="770" y2="485" stroke="#888" stroke-width="0.35"/>
<line x1="772.5" y1="475.83" x2="772.5" y2="485" stroke="#888" stroke-width="0.35"/>
<line x1="775" y1="475.83" x2="775" y2="485" stroke="#888" stroke-width="0.35"/>
<line x1="777.5" y1="475.83" x2="777.5" y2="485" stroke="#888" stroke-width="0.35"/>
<line x1="780" y1="475.83" x2="780" y2="485" stroke="#888" stroke-width="0.35"/>
<line x1="782.5" y1="475.83" x2="782.5" y2="485" stroke="#888" stroke-width="0.35"/>
<line x1="785" y1="475.83" x2="785" y2="485" stroke="#888" stroke-width="0.35"/>
<line x1="787.5" y1="475.83" x2="787.5" y2="485" stroke="#888" stroke-width="0.35"/>
<line x1="790" y1="475.83" x2="790" y2="485" stroke="#888" stroke-width="0.35"/>
<line x1="762.5" y1="475.83" x2="790" y2="475.83" stroke="#888" stroke-width="0.35"/>
<line x1="762.5" y1="485" x2="790" y2="485" stroke="#888" stroke-width="0.35"/>
<line x1="762.5" y1="486.67" x2="762.5" y2="495.33" stroke="#888" stroke-width="0.35"/>
<line x1="764.86" y1="486.67" x2="764.86" y2="495.33" stroke="#888" stroke-width="0.35"/>
<line x1="767.22" y1="486.67" x2="767.22" y2="495.33" stroke="#888" stroke-width="0.35"/>
<line x1="769.58" y1="486.67" x2="769.58" y2="495.33" stroke="#888" stroke-width="0.35"/>
<line x1="771.94" y1="486.67" x2="771.94" y2="495.33" stroke="#888" stroke-width="0.35"/>
<line x1="774.31" y1="486.67" x2="774.31" y2="495.33" stroke="#888" stroke-width="0.35"/>
<line x1="776.67" y1="486.67" x2="776.67" y2="495.33" stroke="#888" stroke-width="0.35"/>
<line x1="762.5" y1="486.67" x2="776.67" y2="486.67" stroke="#888" stroke-width="0.35"/>
<line x1="762.5" y1="495.33" x2="776.67" y2="495.33" stroke="#888" stroke-width="0.35"/>
<line x1="776.67" y1="475.83" x2="785" y2="485" stroke="#888" stroke-width="0.35"/>
<polyline points="750.5,480.83 754.17,485 750.5,490" stroke="#444" stroke-width="0.5" fill="none"/>
<rect x="670.83" y="495.83" width="2.17" height="56.67" fill="#000"/>
<rect x="680" y="515.83" width="4.17" height="11.17" fill="#000"/>
<rect x="680" y="543.33" width="4.17" height="10" fill="#000"/>
<rect x="670.83" y="523.33" width="13.33" height="3.33" fill="#000"/>
<rect x="732" y="520.83" width="3.33" height="45" fill="#000"/>
<rect x="747.5" y="520.83" width="3" height="45" fill="#000"/>
<line x1="681.67" y1="500" x2="681.67" y2="515.83" stroke="#444" stroke-width="0.5"/>
<line x1="681.67" y1="526.67" x2="681.67" y2="543.33" stroke="#444" stroke-width="0.5"/>
<rect x="670.83" y="510" width="2.17" height="42.5" fill="#000"/>
<rect x="670.83" y="549.17" width="13.33" height="3.33" fill="#000"/>
<rect x="680" y="542.5" width="4.17" height="12" fill="#000"/>
<line x1="681.17" y1="554.5" x2="681.17" y2="567.5" stroke="#777" stroke-width="0.45"/>
<line x1="683.5" y1="554.5" x2="683.5" y2="567.5" stroke="#777" stroke-width="0.45"/>
<rect x="680" y="567.5" width="5" height="5.83" fill="#000"/>
<rect x="680" y="569.17" width="58.33" height="3.83" fill="#000"/>
<rect x="746.67" y="569.17" width="24.33" height="3.83" fill="#000"/>
<rect x="778.33" y="569.17" width="24.5" height="3.83" fill="#000"/>
<line x1="771" y1="570" x2="778.33" y2="570" stroke="#777" stroke-width="0.45"/>
<line x1="771" y1="572.33" x2="778.33" y2="572.33" stroke="#777" stroke-width="0.45"/>
<rect x="732" y="525" width="3.33" height="46.17" fill="#000"/>
<rect x="747.5" y="525" width="3.33" height="46.17" fill="#000"/>
<rect x="735.33" y="550.83" width="12.17" height="1.17" fill="#000"/>
<line x1="738.33" y1="573" x2="745.33" y2="575.83" stroke="#444" stroke-width="0.5"/>
<rect x="799.17" y="518" width="3.67" height="12.67" fill="#000"/>
<rect x="799.17" y="544.17" width="3.67" height="7" fill="#000"/>
<rect x="799.17" y="563.33" width="3.67" height="9.67" fill="#000"/>
<line x1="800" y1="530.67" x2="800" y2="544.17" stroke="#777" stroke-width="0.45"/>
<line x1="802.17" y1="530.67" x2="802.17" y2="544.17" stroke="#777" stroke-width="0.45"/>
<line x1="800" y1="551.17" x2="800" y2="563.33" stroke="#777" stroke-width="0.45"/>
<line x1="802.17" y1="551.17" x2="802.17" y2="563.33" stroke="#777" stroke-width="0.45"/>
<rect x="696.67" y="573" width="4.17" height="5.67" fill="#000"/>
<rect x="696.67" y="594.17" width="4.17" height="25" fill="#000"/>
<line x1="698.67" y1="578.67" x2="698.67" y2="594.17" stroke="#444" stroke-width="0.5"/>
<rect x="688" y="573" width="1.17" height="26.17" fill="#000"/>
<rect x="688" y="596.67" width="12.83" height="2.67" fill="#000"/>
<rect x="696.67" y="615.33" width="11.67" height="3.83" fill="#000"/>
<rect x="720.33" y="615.33" width="14.83" height="3.83" fill="#000"/>
<rect x="747.5" y="615.33" width="40.83" height="3.83" fill="#000"/>
<line x1="708.33" y1="616.33" x2="720.33" y2="616.33" stroke="#333" stroke-width="0.45"/>
<line x1="708.33" y1="618.5" x2="720.33" y2="618.5" stroke="#333" stroke-width="0.45"/>
<line x1="735.17" y1="616.33" x2="747.5" y2="616.33" stroke="#333" stroke-width="0.45"/>
<line x1="735.17" y1="618.5" x2="747.5" y2="618.5" stroke="#333" stroke-width="0.45"/>
<rect x="784.17" y="573" width="4.17" height="26.5" fill="#000"/>
<rect x="784.17" y="611.67" width="4.17" height="7.5" fill="#000"/>
<line x1="786.17" y1="599.5" x2="786.17" y2="611.67" stroke="#444" stroke-width="0.5"/>
<polyline points="788.33,600 793.33,600 793.33,611.17 788.33,611.17" stroke="#777" stroke-width="0.4" fill="none"/>
<rect x="783.33" y="437" width="19.5" height="3.83" fill="#000"/>
<rect x="798.83" y="437" width="4" height="17.5" fill="#000"/>
<rect x="798.83" y="466.67" width="4" height="9.5" fill="#000"/>
<rect x="798.83" y="496.33" width="4" height="9.83" fill="#000"/>
<line x1="799.67" y1="454.5" x2="799.67" y2="466.67" stroke="#777" stroke-width="0.45"/>
<line x1="802" y1="454.5" x2="802" y2="466.67" stroke="#777" stroke-width="0.45"/>
<line x1="799.67" y1="506.17" x2="799.67" y2="518" stroke="#777" stroke-width="0.45"/>
<line x1="802" y1="506.17" x2="802" y2="518" stroke="#777" stroke-width="0.45"/>
<rect x="747.5" y="472" width="68.5" height="3.33" fill="#000"/>
<rect x="747.5" y="496.33" width="68.5" height="3.33" fill="#000"/>
<rect x="780.83" y="484.17" width="22" height="1.17" fill="#000"/>
<line x1="800.83" y1="475.33" x2="800.83" y2="484.17" stroke="#444" stroke-width="0.5"/>
<line x1="800.83" y1="485.33" x2="800.83" y2="496.33" stroke="#444" stroke-width="0.5"/>
<polyline points="802.83,455 808.33,455 808.33,465.33 802.83,465.33" stroke="#777" stroke-width="0.4" fill="none"/>
<polyline points="802.83,506.67 808.33,506.67 808.33,516.67 802.83,516.67" stroke="#777" stroke-width="0.4" fill="none"/>
<polyline points="802.83,477 805.83,477 802.83,483.33" stroke="#555" stroke-width="0.4" fill="none"/>
<polyline points="802.83,486.67 805.83,490 802.83,495" stroke="#555" stroke-width="0.4" fill="none"/>
<rect x="145.33" y="490.83" width="12.67" height="3.33" fill="#000"/>
<rect x="145.33" y="490.83" width="2.17" height="29.5" fill="#000"/>
<rect x="181.67" y="440" width="1.67" height="17.83" fill="#000"/>
<rect x="181.67" y="466.67" width="1.67" height="17.83" fill="#000"/>
<rect x="190.83" y="453.67" width="15" height="1.33" fill="#000"/>
<rect x="190.83" y="465.83" width="15" height="1.33" fill="#000"/>
<rect x="190.83" y="453.67" width="1.5" height="5.5" fill="#000"/>
<rect x="190.83" y="466.33" width="1.5" height="7" fill="#000"/>
<rect x="182.5" y="440" width="1.33" height="12.5" fill="#000"/>
<rect x="199.67" y="440" width="1.17" height="13.67" fill="#000"/>
<rect x="145.33" y="545" width="2.17" height="25.83" fill="#000"/>
<rect x="145.33" y="567.5" width="12.67" height="3.33" fill="#000"/>
<rect x="154.17" y="529.17" width="21.67" height="1.33" fill="#000"/>
<polyline points="150.33,521.67 154.17,528.33 150.33,535.83" stroke="#555" stroke-width="0.5" fill="none"/>
<polyline points="204.17,525.83 208.33,530 204.17,534.17" stroke="#555" stroke-width="0.5" fill="none"/>
<rect x="225" y="565.83" width="11" height="1.17" fill="#000"/>
<rect x="225" y="580.83" width="11" height="1.17" fill="#000"/>
<rect x="225" y="599.67" width="11.67" height="1.17" fill="#000"/>
<rect x="235" y="571.67" width="1.67" height="9.5" fill="#000"/>
<rect x="235" y="591.67" width="1.67" height="9.17" fill="#000"/>
<rect x="244.17" y="600" width="1.33" height="14.5" fill="#000"/>
<rect x="245.83" y="568.67" width="27.5" height="1.67" fill="#000"/>
<rect x="299.38" y="472.5" width="2.5" height="10.25" fill="#000"/>
<rect x="299.38" y="481.25" width="55.62" height="1.5" fill="#000"/>
<rect x="307.25" y="422.25" width="1.25" height="15.88" fill="#000"/>
<rect x="306.25" y="436.88" width="19.38" height="1.62" fill="#000"/>
<rect x="341.88" y="422.25" width="1.25" height="15.88" fill="#000"/>
<rect x="329" y="436.88" width="16" height="1.62" fill="#000"/>
<rect x="294.75" y="438.12" width="3.38" height="0.88" fill="#000"/>
<rect x="351.88" y="438.12" width="4.38" height="0.88" fill="#000"/>
<rect x="306.25" y="439.75" width="18.75" height="3.38" fill="none" stroke="#555" stroke-width="0.4"/>
<rect x="307.5" y="449.75" width="17.5" height="4" fill="none" stroke="#555" stroke-width="0.4"/>
<rect x="330" y="439.75" width="15" height="3.38" fill="none" stroke="#555" stroke-width="0.4"/>
<rect x="329.38" y="449.75" width="14.38" height="4" fill="none" stroke="#555" stroke-width="0.4"/>
<rect x="321.25" y="446.88" width="4.38" height="1.25" fill="#000"/>
<rect x="329" y="446.88" width="4.12" height="1.25" fill="#000"/>
<circle cx="311" cy="448.5" r="1.3" fill="none" stroke="#444" stroke-width="0.4"/>
<circle cx="311" cy="455" r="1.3" fill="none" stroke="#444" stroke-width="0.4"/>
<circle cx="341.5" cy="448.5" r="1.3" fill="none" stroke="#444" stroke-width="0.4"/>
<circle cx="341.5" cy="455" r="1.3" fill="none" stroke="#444" stroke-width="0.4"/>
<circle cx="315" cy="441.25" r="1.3" fill="none" stroke="#444" stroke-width="0.4"/>
<circle cx="336" cy="441.25" r="1.3" fill="none" stroke="#444" stroke-width="0.4"/>
<rect x="309.38" y="423.5" width="3.75" height="4" fill="none" stroke="#555" stroke-width="0.4"/>
<rect x="315" y="423.5" width="4.38" height="4" fill="none" stroke="#555" stroke-width="0.4"/>
<rect x="314.38" y="433.12" width="6.88" height="3.38" fill="none" stroke="#555" stroke-width="0.4"/>
<rect x="330" y="428.75" width="3.12" height="6.88" fill="none" stroke="#555" stroke-width="0.4"/>
<rect x="336.88" y="423.5" width="3.75" height="4" fill="none" stroke="#555" stroke-width="0.4"/>
<rect x="322.5" y="423.12" width="1.88" height="3.75" fill="#444"/>
<rect x="329.38" y="423.12" width="3.75" height="1.62" fill="#444"/>
<rect x="372.5" y="422.25" width="1.25" height="14.75" fill="#000"/>
<rect x="372.5" y="436" width="5.25" height="1" fill="#000"/>
<rect x="384.75" y="422.25" width="1" height="14.75" fill="#000"/>
<rect x="384.75" y="436" width="7.25" height="1" fill="#000"/>
<rect x="359" y="445" width="15" height="1.5" fill="#000"/>
<rect x="381.25" y="445" width="4.5" height="1.5" fill="#000"/>
<rect x="393.12" y="445" width="11.88" height="1.5" fill="#000"/>
<rect x="384.38" y="445.62" width="1.25" height="24.62" fill="#000"/>
<rect x="359.75" y="423.75" width="11.5" height="5" fill="none" stroke="#555" stroke-width="0.4"/>
<rect x="359.75" y="430" width="4.62" height="4.38" fill="none" stroke="#555" stroke-width="0.4"/>
<rect x="359.75" y="438.12" width="3.38" height="5" fill="none" stroke="#555" stroke-width="0.4"/>
<polyline points="374,443.75 378.12,438.12 383.75,436.88" stroke="#555" stroke-width="0.4" fill="none"/>
<polyline points="375,449.38 381.25,446.5" stroke="#555" stroke-width="0.4" fill="none"/>
<polyline points="385.75,445.62 391.88,449.75" stroke="#555" stroke-width="0.4" fill="none"/>
<text x="220" y="375.8" font-size="6.6" font-weight="bold" fill="#111" stroke="#111" stroke-width="0.28" textLength="7.6" lengthAdjust="spacingAndGlyphs">3А</text>
<rect x="228.5" y="369.6" width="6.2" height="1.8" fill="#4a4a4a"/>
<rect x="231.3" y="369.6" width="0.6" height="1.8" fill="#fff"/>
<rect x="228.5" y="372.15" width="6.2" height="1.8" fill="#4a4a4a"/>
<rect x="231.3" y="372.15" width="0.6" height="1.8" fill="#fff"/>
<rect x="228.5" y="374.7" width="6.2" height="1.8" fill="#4a4a4a"/>
<rect x="231.3" y="374.7" width="0.6" height="1.8" fill="#fff"/>
<text x="247.4" y="371.4" font-size="6.6" font-weight="bold" fill="#111" stroke="#111" stroke-width="0.28" textLength="5.4" lengthAdjust="spacingAndGlyphs">1Г</text>
<rect x="253.7" y="365.2" width="6.2" height="1.8" fill="#4a4a4a"/>
<rect x="256.5" y="365.2" width="0.6" height="1.8" fill="#fff"/>
<rect x="253.7" y="367.75" width="6.2" height="1.8" fill="#4a4a4a"/>
<rect x="256.5" y="367.75" width="0.6" height="1.8" fill="#fff"/>
<rect x="253.7" y="370.3" width="6.2" height="1.8" fill="#4a4a4a"/>
<rect x="256.5" y="370.3" width="0.6" height="1.8" fill="#fff"/>
<text x="318.2" y="371.6" font-size="6.6" font-weight="bold" fill="#111" stroke="#111" stroke-width="0.28" textLength="7.4" lengthAdjust="spacingAndGlyphs">1Д</text>
<rect x="326.5" y="365.4" width="6.2" height="1.8" fill="#4a4a4a"/>
<rect x="329.3" y="365.4" width="0.6" height="1.8" fill="#fff"/>
<rect x="326.5" y="367.95" width="6.2" height="1.8" fill="#4a4a4a"/>
<rect x="329.3" y="367.95" width="0.6" height="1.8" fill="#fff"/>
<rect x="326.5" y="370.5" width="6.2" height="1.8" fill="#4a4a4a"/>
<rect x="329.3" y="370.5" width="0.6" height="1.8" fill="#fff"/>
<text x="370.2" y="371.6" font-size="6.6" font-weight="bold" fill="#111" stroke="#111" stroke-width="0.28" textLength="6.6" lengthAdjust="spacingAndGlyphs">1Е</text>
<rect x="377.7" y="365.4" width="6.2" height="1.8" fill="#4a4a4a"/>
<rect x="380.5" y="365.4" width="0.6" height="1.8" fill="#fff"/>
<rect x="377.7" y="367.95" width="6.2" height="1.8" fill="#4a4a4a"/>
<rect x="380.5" y="367.95" width="0.6" height="1.8" fill="#fff"/>
<rect x="377.7" y="370.5" width="6.2" height="1.8" fill="#4a4a4a"/>
<rect x="380.5" y="370.5" width="0.6" height="1.8" fill="#fff"/>
<text x="567" y="373.6" font-size="6.6" font-weight="bold" fill="#111" stroke="#111" stroke-width="0.28" textLength="13.6" lengthAdjust="spacingAndGlyphs">2*3*</text>
<rect x="581.5" y="367.4" width="6.2" height="1.8" fill="#4a4a4a"/>
<rect x="584.3" y="367.4" width="0.6" height="1.8" fill="#fff"/>
<rect x="581.5" y="369.95" width="6.2" height="1.8" fill="#4a4a4a"/>
<rect x="584.3" y="369.95" width="0.6" height="1.8" fill="#fff"/>
<rect x="581.5" y="372.5" width="6.2" height="1.8" fill="#4a4a4a"/>
<rect x="584.3" y="372.5" width="0.6" height="1.8" fill="#fff"/>
<text x="620.8" y="373.6" font-size="6.6" font-weight="bold" fill="#111" stroke="#111" stroke-width="0.28" textLength="6.8" lengthAdjust="spacingAndGlyphs">1К</text>
<rect x="628.5" y="367.4" width="6.2" height="1.8" fill="#4a4a4a"/>
<rect x="631.3" y="367.4" width="0.6" height="1.8" fill="#fff"/>
<rect x="628.5" y="369.95" width="6.2" height="1.8" fill="#4a4a4a"/>
<rect x="631.3" y="369.95" width="0.6" height="1.8" fill="#fff"/>
<rect x="628.5" y="372.5" width="6.2" height="1.8" fill="#4a4a4a"/>
<rect x="631.3" y="372.5" width="0.6" height="1.8" fill="#fff"/>
<text x="300.6" y="464.4" font-size="6.6" font-weight="bold" fill="#111" stroke="#111" stroke-width="0.28" textLength="8.2" lengthAdjust="spacingAndGlyphs">СВ</text>
<rect x="309.7" y="458.2" width="6.2" height="1.8" fill="#4a4a4a"/>
<rect x="312.5" y="458.2" width="0.6" height="1.8" fill="#fff"/>
<rect x="309.7" y="460.75" width="6.2" height="1.8" fill="#4a4a4a"/>
<rect x="312.5" y="460.75" width="0.6" height="1.8" fill="#fff"/>
<rect x="309.7" y="463.3" width="6.2" height="1.8" fill="#4a4a4a"/>
<rect x="312.5" y="463.3" width="0.6" height="1.8" fill="#fff"/>
<text x="334" y="464.4" font-size="6.6" font-weight="bold" fill="#111" stroke="#111" stroke-width="0.28" textLength="8.2" lengthAdjust="spacingAndGlyphs">СВ</text>
<rect x="343.1" y="458.2" width="6.2" height="1.8" fill="#4a4a4a"/>
<rect x="345.9" y="458.2" width="0.6" height="1.8" fill="#fff"/>
<rect x="343.1" y="460.75" width="6.2" height="1.8" fill="#4a4a4a"/>
<rect x="345.9" y="460.75" width="0.6" height="1.8" fill="#fff"/>
<rect x="343.1" y="463.3" width="6.2" height="1.8" fill="#4a4a4a"/>
<rect x="345.9" y="463.3" width="0.6" height="1.8" fill="#fff"/>
<text x="608" y="449" font-size="6.6" font-weight="bold" fill="#111" stroke="#111" stroke-width="0.28" textLength="6.4" lengthAdjust="spacingAndGlyphs">1И</text>
<rect x="615.3" y="442.8" width="6.2" height="1.8" fill="#4a4a4a"/>
<rect x="618.1" y="442.8" width="0.6" height="1.8" fill="#fff"/>
<rect x="615.3" y="445.35" width="6.2" height="1.8" fill="#4a4a4a"/>
<rect x="618.1" y="445.35" width="0.6" height="1.8" fill="#fff"/>
<rect x="615.3" y="447.9" width="6.2" height="1.8" fill="#4a4a4a"/>
<rect x="618.1" y="447.9" width="0.6" height="1.8" fill="#fff"/>
<text x="638.2" y="464.6" font-size="6.6" font-weight="bold" fill="#111" stroke="#111" stroke-width="0.28" textLength="9" lengthAdjust="spacingAndGlyphs">СГ</text>
<rect x="648.1" y="458.4" width="6.2" height="1.8" fill="#4a4a4a"/>
<rect x="650.9" y="458.4" width="0.6" height="1.8" fill="#fff"/>
<rect x="648.1" y="460.95" width="6.2" height="1.8" fill="#4a4a4a"/>
<rect x="650.9" y="460.95" width="0.6" height="1.8" fill="#fff"/>
<rect x="648.1" y="463.5" width="6.2" height="1.8" fill="#4a4a4a"/>
<rect x="650.9" y="463.5" width="0.6" height="1.8" fill="#fff"/>
<text x="249.6" y="504.6" font-size="6.6" font-weight="bold" fill="#111" stroke="#111" stroke-width="0.28" textLength="8.8" lengthAdjust="spacingAndGlyphs">СА</text>
<rect x="259.3" y="498.4" width="6.2" height="1.8" fill="#4a4a4a"/>
<rect x="262.1" y="498.4" width="0.6" height="1.8" fill="#fff"/>
<rect x="259.3" y="500.95" width="6.2" height="1.8" fill="#4a4a4a"/>
<rect x="262.1" y="500.95" width="0.6" height="1.8" fill="#fff"/>
<rect x="259.3" y="503.5" width="6.2" height="1.8" fill="#4a4a4a"/>
<rect x="262.1" y="503.5" width="0.6" height="1.8" fill="#fff"/>
<text x="252" y="539.6" font-size="6.6" font-weight="bold" fill="#111" stroke="#111" stroke-width="0.28" textLength="7.4" lengthAdjust="spacingAndGlyphs">3В</text>
<rect x="260.3" y="533.4" width="6.2" height="1.8" fill="#4a4a4a"/>
<rect x="263.1" y="533.4" width="0.6" height="1.8" fill="#fff"/>
<rect x="260.3" y="535.95" width="6.2" height="1.8" fill="#4a4a4a"/>
<rect x="263.1" y="535.95" width="0.6" height="1.8" fill="#fff"/>
<rect x="260.3" y="538.5" width="6.2" height="1.8" fill="#4a4a4a"/>
<rect x="263.1" y="538.5" width="0.6" height="1.8" fill="#fff"/>
<text x="163.6" y="508" font-size="6.6" font-weight="bold" fill="#111" stroke="#111" stroke-width="0.28" textLength="7.8" lengthAdjust="spacingAndGlyphs">2В</text>
<rect x="172.3" y="501.8" width="6.2" height="1.8" fill="#4a4a4a"/>
<rect x="175.1" y="501.8" width="0.6" height="1.8" fill="#fff"/>
<rect x="172.3" y="504.35" width="6.2" height="1.8" fill="#4a4a4a"/>
<rect x="175.1" y="504.35" width="0.6" height="1.8" fill="#fff"/>
<rect x="172.3" y="506.9" width="6.2" height="1.8" fill="#4a4a4a"/>
<rect x="175.1" y="506.9" width="0.6" height="1.8" fill="#fff"/>
<text x="163" y="559.4" font-size="6.6" font-weight="bold" fill="#111" stroke="#111" stroke-width="0.28" textLength="7.8" lengthAdjust="spacingAndGlyphs">2Б</text>
<rect x="171.7" y="553.2" width="6.2" height="1.8" fill="#4a4a4a"/>
<rect x="174.5" y="553.2" width="0.6" height="1.8" fill="#fff"/>
<rect x="171.7" y="555.75" width="6.2" height="1.8" fill="#4a4a4a"/>
<rect x="174.5" y="555.75" width="0.6" height="1.8" fill="#fff"/>
<rect x="171.7" y="558.3" width="6.2" height="1.8" fill="#4a4a4a"/>
<rect x="174.5" y="558.3" width="0.6" height="1.8" fill="#fff"/>
<text x="236.6" y="648.6" font-size="6.6" font-weight="bold" fill="#111" stroke="#111" stroke-width="0.28" textLength="7.8" lengthAdjust="spacingAndGlyphs">2А</text>
<rect x="245.3" y="642.4" width="6.2" height="1.8" fill="#4a4a4a"/>
<rect x="248.1" y="642.4" width="0.6" height="1.8" fill="#fff"/>
<rect x="245.3" y="644.95" width="6.2" height="1.8" fill="#4a4a4a"/>
<rect x="248.1" y="644.95" width="0.6" height="1.8" fill="#fff"/>
<rect x="245.3" y="647.5" width="6.2" height="1.8" fill="#4a4a4a"/>
<rect x="248.1" y="647.5" width="0.6" height="1.8" fill="#fff"/>
<text x="250" y="483.2" font-size="3.7" font-weight="bold" fill="#222" text-anchor="middle" textLength="21" lengthAdjust="spacingAndGlyphs">Колясочная</text>
<text x="250" y="487.4" font-size="2.4" fill="#555" text-anchor="middle">17,43 м²</text>
<text x="707.5" y="479.6" font-size="3.7" font-weight="bold" fill="#222" text-anchor="middle" textLength="21" lengthAdjust="spacingAndGlyphs">Колясочная</text>
<text x="707.5" y="484" font-size="2.4" fill="#555" text-anchor="middle">20,15 м²</text>
<line x1="300.8" y1="482.2" x2="286" y2="496.6" stroke="#000" stroke-width="1.5"/>
<polyline points="308.9,484.6 308.9,491.3 295.8,506.1 287,506.1" stroke="#333" stroke-width="0.5" fill="none"/>
<rect x="306.8" y="485" width="1.6" height="5" fill="#666"/>
<rect x="287" y="504.8" width="5" height="1.4" fill="#333"/>
<polyline points="279.8,474.8 283.6,477.1 290.3,474" stroke="#666" stroke-width="0.4" fill="none"/>
<polyline points="276.6,481.5 278.6,486 276.6,492" stroke="#666" stroke-width="0.4" fill="none"/>
<rect x="591.25" y="422.25" width="1.5" height="9.88" fill="#000"/>
<rect x="591.25" y="436.88" width="1.5" height="5.88" fill="#000"/>
<rect x="578.75" y="441.25" width="14" height="1.5" fill="#000"/>
<rect x="606.88" y="422.25" width="1.25" height="12.12" fill="#000"/>
<rect x="603.12" y="433.12" width="5" height="1.25" fill="#000"/>
<rect x="602.5" y="442.25" width="1.25" height="30.25" fill="#000"/>
<rect x="600" y="441.88" width="3.75" height="1.25" fill="#000"/>
<rect x="648.5" y="422.25" width="1.5" height="15.88" fill="#000"/>
<rect x="630.62" y="437.75" width="20.12" height="1.62" fill="#000"/>
<rect x="634.75" y="422.25" width="0.88" height="15.5" fill="#000"/>
<rect x="658.12" y="438.12" width="4.38" height="0.88" fill="#000"/>
<rect x="630.62" y="446.62" width="4.38" height="1.5" fill="#000"/>
<rect x="633.75" y="440" width="15.62" height="3.5" fill="none" stroke="#555" stroke-width="0.4"/>
<rect x="631.88" y="449.75" width="16.88" height="4.25" fill="none" stroke="#555" stroke-width="0.4"/>
<circle cx="645" cy="448.5" r="1.3" fill="none" stroke="#444" stroke-width="0.4"/>
<circle cx="645" cy="455.25" r="1.3" fill="none" stroke="#444" stroke-width="0.4"/>
<circle cx="640.62" cy="441.5" r="1.3" fill="none" stroke="#444" stroke-width="0.4"/>
<rect x="580" y="423.75" width="4.38" height="3.75" fill="none" stroke="#555" stroke-width="0.4"/>
<rect x="585.62" y="423.12" width="5" height="3.75" fill="none" stroke="#555" stroke-width="0.4"/>
<rect x="579.75" y="435.62" width="5.25" height="5.38" fill="none" stroke="#555" stroke-width="0.4"/>
<rect x="586.25" y="436.88" width="4.38" height="4.12" fill="none" stroke="#555" stroke-width="0.4"/>
<rect x="636.88" y="423.5" width="4.38" height="4" fill="none" stroke="#555" stroke-width="0.4"/>
<rect x="642.5" y="423.12" width="5" height="3.75" fill="none" stroke="#555" stroke-width="0.4"/>
<rect x="636.88" y="434.38" width="5" height="3.12" fill="none" stroke="#555" stroke-width="0.4"/>
<rect x="614.38" y="422.5" width="3.75" height="4.38" fill="#444"/>
<rect x="609.38" y="429.38" width="4.38" height="3.75" fill="none" stroke="#555" stroke-width="0.4"/>
<rect x="622.5" y="427.5" width="3.75" height="7.5" fill="none" stroke="#555" stroke-width="0.4"/>
<rect x="571.88" y="423.75" width="3.12" height="1.88" fill="#444"/>
<rect x="570.62" y="430" width="4.38" height="3.75" fill="none" stroke="#555" stroke-width="0.4"/>
<rect x="571.88" y="438.75" width="3.75" height="4.75" fill="none" stroke="#555" stroke-width="0.4"/>
<rect x="562.5" y="426.25" width="12.5" height="2.5" fill="none" stroke="#777" stroke-width="0.4"/>
<polyline points="592.75,431.88 596.25,435.62" stroke="#555" stroke-width="0.4" fill="none"/>
<polyline points="593.75,446.25 600.62,442.75" stroke="#555" stroke-width="0.4" fill="none"/>
<polyline points="650,433.75 652.5,428.75" stroke="#555" stroke-width="0.4" fill="none"/>
<polyline points="594.75,419 601.88,415" stroke="#555" stroke-width="0.4" fill="none"/>
<polyline points="658.12,419 651.25,415" stroke="#555" stroke-width="0.4" fill="none"/>
<rect x="214.62" y="357.5" width="1.25" height="35.25" fill="#000"/>
<polyline points="186.25,388.12 193.12,392.25" stroke="#555" stroke-width="0.4" fill="none"/>
<polyline points="201.25,388.12 194.38,392.25" stroke="#555" stroke-width="0.4" fill="none"/>
<polyline points="183.75,393.12 186.88,398.75" stroke="#555" stroke-width="0.4" fill="none"/>
<polyline points="203.12,400 208.12,403.12" stroke="#555" stroke-width="0.4" fill="none"/>
<polyline points="189.38,410 196.25,406.25" stroke="#555" stroke-width="0.4" fill="none"/>
<polyline points="265.62,383.12 271.88,380" stroke="#555" stroke-width="0.4" fill="none"/>
<polyline points="270,391.88 273.12,397.5" stroke="#555" stroke-width="0.4" fill="none"/>
<polyline points="260,406.88 255.62,413.12 260,418.75" stroke="#555" stroke-width="0.4" fill="none"/>
<polyline points="266.25,410.62 273.12,406.88" stroke="#555" stroke-width="0.4" fill="none"/>
<rect x="235.75" y="383.75" width="4.25" height="11.25" fill="none" stroke="#555" stroke-width="0.4"/>
<rect x="236.25" y="391.25" width="3.75" height="3.12" fill="#555"/>
<rect x="223.12" y="398.38" width="11.88" height="3.88" fill="none" stroke="#555" stroke-width="0.4"/>
<circle cx="233.12" cy="400.38" r="1.2" fill="none" stroke="#444" stroke-width="0.4"/>
<rect x="244" y="384.38" width="4.12" height="18.12" fill="none" stroke="#555" stroke-width="0.4"/>
<rect x="244.25" y="398.75" width="3.5" height="3.75" fill="#555"/>
<rect x="255.62" y="392.5" width="3.12" height="9.38" fill="none" stroke="#555" stroke-width="0.4"/>
<circle cx="246" cy="390" r="1.2" fill="none" stroke="#444" stroke-width="0.4"/>
<rect x="197.5" y="407.5" width="3.75" height="8.75" fill="none" stroke="#555" stroke-width="0.4"/>
<rect x="201.88" y="413.12" width="9.38" height="3.75" fill="none" stroke="#555" stroke-width="0.4"/>
<rect x="207.5" y="408.75" width="3.75" height="3.75" fill="none" stroke="#555" stroke-width="0.4"/>
<rect x="197.5" y="417.5" width="15" height="3.75" fill="none" stroke="#555" stroke-width="0.4"/>
<line x1="179.62" y1="376.25" x2="184.12" y2="376.25" stroke="#999" stroke-width="0.8"/>
<line x1="202.12" y1="376.25" x2="206.62" y2="376.25" stroke="#999" stroke-width="0.8"/>
<line x1="225.88" y1="388.38" x2="230.38" y2="388.38" stroke="#999" stroke-width="0.8"/>
<line x1="252.12" y1="380" x2="256.62" y2="380" stroke="#999" stroke-width="0.8"/>
<line x1="174.62" y1="398.12" x2="179.12" y2="398.12" stroke="#999" stroke-width="0.8"/>
<line x1="204" y1="397.5" x2="208.5" y2="397.5" stroke="#999" stroke-width="0.8"/>
<line x1="180.88" y1="420.62" x2="185.38" y2="420.62" stroke="#999" stroke-width="0.8"/>
<line x1="225.88" y1="374" x2="230.38" y2="374" stroke="#999" stroke-width="0.8"/>
<line x1="219" y1="420.62" x2="223.5" y2="420.62" stroke="#999" stroke-width="0.8"/>
<line x1="273.38" y1="370" x2="277.88" y2="370" stroke="#999" stroke-width="0.8"/>
<line x1="264" y1="398.12" x2="268.5" y2="398.12" stroke="#999" stroke-width="0.8"/>
<line x1="226.25" y1="349.75" x2="230.75" y2="349.75" stroke="#999" stroke-width="0.8"/>
<line x1="252.75" y1="347.5" x2="257.25" y2="347.5" stroke="#999" stroke-width="0.8"/>
<line x1="232.5" y1="357.88" x2="235.62" y2="356" stroke="#555" stroke-width="0.4"/>
<line x1="257.5" y1="354.38" x2="260.62" y2="352.25" stroke="#555" stroke-width="0.4"/>
<polyline points="341.88,351.25 346.25,348.12 350,351.25" stroke="#666" stroke-width="0.4" fill="none"/>
<polyline points="353.75,351.25 360,347.75" stroke="#666" stroke-width="0.4" fill="none"/>
<polyline points="304.38,380 310,383.5" stroke="#555" stroke-width="0.4" fill="none"/>
<polyline points="305.62,392.5 302.5,398.12" stroke="#555" stroke-width="0.4" fill="none"/>
<polyline points="304.38,406.88 310.62,411" stroke="#555" stroke-width="0.4" fill="none"/>
<polyline points="298.75,418.12 305.62,415" stroke="#555" stroke-width="0.4" fill="none"/>
<polyline points="348.12,401.88 351.25,400.62 355,401.88" stroke="#555" stroke-width="0.4" fill="none"/>
<polyline points="344.38,415 351.25,418.75" stroke="#555" stroke-width="0.4" fill="none"/>
<polyline points="397.5,380.25 391.25,383.12" stroke="#555" stroke-width="0.4" fill="none"/>
<polyline points="396.88,391.88 399.38,396.88" stroke="#555" stroke-width="0.4" fill="none"/>
<polyline points="391.25,410 398.12,406.88" stroke="#555" stroke-width="0.4" fill="none"/>
<polyline points="393.12,415 398.75,418.12" stroke="#555" stroke-width="0.4" fill="none"/>
<rect x="320" y="391.88" width="3.12" height="5" fill="none" stroke="#555" stroke-width="0.4"/>
<rect x="332.5" y="390" width="4.38" height="7.75" fill="none" stroke="#555" stroke-width="0.4"/>
<rect x="325.62" y="399.38" width="3.75" height="3.12" fill="#555"/>
<rect x="365.62" y="390" width="3.75" height="7.75" fill="none" stroke="#555" stroke-width="0.4"/>
<rect x="379.38" y="391.25" width="4.38" height="6.88" fill="none" stroke="#555" stroke-width="0.4"/>
<rect x="373.12" y="399.38" width="3.75" height="3.12" fill="#555"/>
<circle cx="335" cy="395.62" r="1.2" fill="none" stroke="#444" stroke-width="0.4"/>
<circle cx="367.5" cy="395.62" r="1.2" fill="none" stroke="#444" stroke-width="0.4"/>
<rect x="280.62" y="385.62" width="4.38" height="4.38" fill="none" stroke="#555" stroke-width="0.4"/>
<rect x="288.75" y="385.62" width="5" height="4.38" fill="none" stroke="#555" stroke-width="0.4"/>
<rect x="295" y="385.62" width="5" height="3.75" fill="none" stroke="#555" stroke-width="0.4"/>
<rect x="280.62" y="396.88" width="3.75" height="5" fill="none" stroke="#555" stroke-width="0.4"/>
<rect x="289.38" y="396.88" width="3.75" height="5" fill="none" stroke="#555" stroke-width="0.4"/>
<rect x="296.25" y="398.75" width="4.38" height="3.75" fill="none" stroke="#555" stroke-width="0.4"/>
<rect x="280" y="384.38" width="2.5" height="3.75" fill="#444"/>
<rect x="290" y="384.38" width="2.5" height="3.75" fill="#444"/>
<line x1="299.62" y1="369.75" x2="304.12" y2="369.75" stroke="#999" stroke-width="0.8"/>
<line x1="323.38" y1="385.62" x2="327.88" y2="385.62" stroke="#999" stroke-width="0.8"/>
<line x1="323.38" y1="347.75" x2="327.88" y2="347.75" stroke="#999" stroke-width="0.8"/>
<line x1="374" y1="347.75" x2="378.5" y2="347.75" stroke="#999" stroke-width="0.8"/>
<line x1="374" y1="385.62" x2="378.5" y2="385.62" stroke="#999" stroke-width="0.8"/>
<line x1="305.88" y1="398.12" x2="310.38" y2="398.12" stroke="#999" stroke-width="0.8"/>
<line x1="390.88" y1="398.12" x2="395.38" y2="398.12" stroke="#999" stroke-width="0.8"/>
<line x1="397.75" y1="369.75" x2="402.25" y2="369.75" stroke="#999" stroke-width="0.8"/>
<line x1="290.25" y1="394.75" x2="294.75" y2="394.75" stroke="#999" stroke-width="0.8"/>
<line x1="280.25" y1="394.75" x2="284.75" y2="394.75" stroke="#999" stroke-width="0.8"/>
<line x1="329.38" y1="354.75" x2="333.12" y2="352.25" stroke="#555" stroke-width="0.4"/>
<line x1="370.62" y1="352.5" x2="373.75" y2="354.75" stroke="#555" stroke-width="0.4"/>
<rect x="310" y="383.12" width="4.38" height="1.25" fill="#000"/>
<rect x="388.75" y="383.12" width="4.38" height="1.25" fill="#000"/>
<rect x="431.5" y="400" width="1.62" height="6.88" fill="#000"/>
<rect x="501.88" y="400" width="1.62" height="6.88" fill="#000"/>
<polyline points="434.38,388.75 440.25,392.5" stroke="#555" stroke-width="0.4" fill="none"/>
<polyline points="448.12,388.75 442.25,392.5" stroke="#555" stroke-width="0.4" fill="none"/>
<polyline points="435.62,395.62 433.12,400" stroke="#555" stroke-width="0.4" fill="none"/>
<polyline points="448.75,393.75 445.62,399.38" stroke="#555" stroke-width="0.4" fill="none"/>
<polyline points="486.88,388.75 492.75,392.5" stroke="#555" stroke-width="0.4" fill="none"/>
<polyline points="500.62,388.75 494.5,392.5" stroke="#555" stroke-width="0.4" fill="none"/>
<polyline points="486.25,393.75 489.38,399.38" stroke="#555" stroke-width="0.4" fill="none"/>
<polyline points="499.38,395.62 501.88,400" stroke="#555" stroke-width="0.4" fill="none"/>
<polyline points="416.25,407.5 411.88,414.38" stroke="#555" stroke-width="0.4" fill="none"/>
<polyline points="449.38,410 446.25,416.25" stroke="#555" stroke-width="0.4" fill="none"/>
<polyline points="485.62,410 488.75,416.25" stroke="#555" stroke-width="0.4" fill="none"/>
<polyline points="438.75,420 445.62,423.75" stroke="#555" stroke-width="0.4" fill="none"/>
<polyline points="495.62,420 488.75,423.75" stroke="#555" stroke-width="0.4" fill="none"/>
<rect x="420" y="395" width="4.38" height="3.12" fill="none" stroke="#555" stroke-width="0.4"/>
<rect x="419.38" y="400" width="5.62" height="4.75" fill="none" stroke="#555" stroke-width="0.4"/>
<rect x="426.88" y="402.5" width="4.12" height="2.5" fill="none" stroke="#555" stroke-width="0.4"/>
<rect x="510.62" y="395" width="4.38" height="3.12" fill="none" stroke="#555" stroke-width="0.4"/>
<rect x="510" y="400" width="5.62" height="4.75" fill="none" stroke="#555" stroke-width="0.4"/>
<rect x="504" y="402.5" width="4.12" height="2.5" fill="none" stroke="#555" stroke-width="0.4"/>
<rect x="460" y="395" width="3.5" height="6.25" fill="none" stroke="#555" stroke-width="0.4"/>
<rect x="471.25" y="395" width="3.5" height="6.25" fill="none" stroke="#555" stroke-width="0.4"/>
<rect x="458.75" y="413.75" width="4.38" height="4.38" fill="none" stroke="#555" stroke-width="0.4"/>
<rect x="471.5" y="413.75" width="4.5" height="4.38" fill="none" stroke="#555" stroke-width="0.4"/>
<rect x="460" y="409.38" width="4" height="3.12" fill="#444"/>
<rect x="470.62" y="409.38" width="4.12" height="3.12" fill="#444"/>
<rect x="459.75" y="404.62" width="4.25" height="1.25" fill="#444"/>
<rect x="470.62" y="404.62" width="4.38" height="1.25" fill="#444"/>
<rect x="401.88" y="386.25" width="4.38" height="3.12" fill="none" stroke="#555" stroke-width="0.4"/>
<rect x="408.12" y="386.25" width="5.62" height="5" fill="none" stroke="#555" stroke-width="0.4"/>
<rect x="402.5" y="399.38" width="3.75" height="3.12" fill="none" stroke="#555" stroke-width="0.4"/>
<rect x="409.38" y="397.5" width="3.75" height="3.75" fill="none" stroke="#555" stroke-width="0.4"/>
<rect x="449.38" y="421" width="8.75" height="2.75" fill="none" stroke="#555" stroke-width="0.4"/>
<rect x="475" y="421" width="10.62" height="2.75" fill="none" stroke="#555" stroke-width="0.4"/>
<line x1="427.12" y1="379.62" x2="431.62" y2="379.62" stroke="#999" stroke-width="0.8"/>
<line x1="450.88" y1="379.62" x2="455.38" y2="379.62" stroke="#999" stroke-width="0.8"/>
<line x1="479.62" y1="379.62" x2="484.12" y2="379.62" stroke="#999" stroke-width="0.8"/>
<line x1="503.38" y1="379.62" x2="507.88" y2="379.62" stroke="#999" stroke-width="0.8"/>
<line x1="439" y1="404.38" x2="443.5" y2="404.38" stroke="#999" stroke-width="0.8"/>
<line x1="491.5" y1="404.38" x2="496" y2="404.38" stroke="#999" stroke-width="0.8"/>
<line x1="426.75" y1="397.75" x2="431.25" y2="397.75" stroke="#999" stroke-width="0.8"/>
<line x1="503.38" y1="397.75" x2="507.88" y2="397.75" stroke="#999" stroke-width="0.8"/>
<line x1="452.12" y1="397.5" x2="456.62" y2="397.5" stroke="#999" stroke-width="0.8"/>
<line x1="477.75" y1="396.5" x2="482.25" y2="396.5" stroke="#999" stroke-width="0.8"/>
<line x1="450.25" y1="413.5" x2="454.75" y2="413.5" stroke="#999" stroke-width="0.8"/>
<line x1="479.62" y1="413.5" x2="484.12" y2="413.5" stroke="#999" stroke-width="0.8"/>
<line x1="404" y1="394" x2="408.5" y2="394" stroke="#999" stroke-width="0.8"/>
<line x1="400.25" y1="370" x2="404.75" y2="370" stroke="#999" stroke-width="0.8"/>
<polyline points="535.62,378.12 541.88,382.25" stroke="#555" stroke-width="0.4" fill="none"/>
<polyline points="550,378.12 543.75,382.25" stroke="#555" stroke-width="0.4" fill="none"/>
<polyline points="533.75,383.75 536.88,389.38 541.88,390" stroke="#555" stroke-width="0.4" fill="none"/>
<polyline points="569.38,384.38 565.62,390" stroke="#555" stroke-width="0.4" fill="none"/>
<polyline points="558.12,390.62 565,388.12" stroke="#555" stroke-width="0.4" fill="none"/>
<polyline points="546.88,406.88 553.12,410.62" stroke="#555" stroke-width="0.4" fill="none"/>
<polyline points="519.38,407.5 522.5,413.75" stroke="#555" stroke-width="0.4" fill="none"/>
<polyline points="535.62,418.75 541.88,415" stroke="#555" stroke-width="0.4" fill="none"/>
<polyline points="596.25,418.75 602.5,415" stroke="#555" stroke-width="0.4" fill="none"/>
<polyline points="601.88,401.88 605.62,400.62 610,401.88" stroke="#555" stroke-width="0.4" fill="none"/>
<polyline points="593.75,348.12 600,351.25" stroke="#666" stroke-width="0.4" fill="none"/>
<polyline points="605,351.25 608.75,348.12 613.12,351.25" stroke="#666" stroke-width="0.4" fill="none"/>
<rect x="520.62" y="384.38" width="3.12" height="5" fill="none" stroke="#555" stroke-width="0.4"/>
<rect x="520.62" y="392.5" width="4.38" height="4.38" fill="none" stroke="#555" stroke-width="0.4"/>
<rect x="520.62" y="398.12" width="10" height="4.38" fill="none" stroke="#555" stroke-width="0.4"/>
<rect x="533.75" y="393.12" width="5.62" height="4.38" fill="none" stroke="#555" stroke-width="0.4"/>
<rect x="533.75" y="398.75" width="3.12" height="3.75" fill="none" stroke="#555" stroke-width="0.4"/>
<rect x="558.12" y="393.75" width="5.62" height="3.75" fill="none" stroke="#555" stroke-width="0.4"/>
<rect x="558.12" y="398.5" width="5" height="3.75" fill="none" stroke="#555" stroke-width="0.4"/>
<rect x="579.38" y="399.38" width="3.75" height="3.12" fill="#555"/>
<rect x="626.25" y="399.38" width="3.75" height="3.12" fill="#555"/>
<rect x="617.5" y="390" width="3.75" height="6.88" fill="none" stroke="#555" stroke-width="0.4"/>
<circle cx="571.88" cy="400.88" r="1.2" fill="none" stroke="#444" stroke-width="0.4"/>
<line x1="530.25" y1="369.75" x2="534.75" y2="369.75" stroke="#999" stroke-width="0.8"/>
<line x1="552.75" y1="369.75" x2="557.25" y2="369.75" stroke="#999" stroke-width="0.8"/>
<line x1="575.88" y1="383.75" x2="580.38" y2="383.75" stroke="#999" stroke-width="0.8"/>
<line x1="575.88" y1="347.75" x2="580.38" y2="347.75" stroke="#999" stroke-width="0.8"/>
<line x1="625.25" y1="384.38" x2="629.75" y2="384.38" stroke="#999" stroke-width="0.8"/>
<line x1="525.88" y1="387.25" x2="530.38" y2="387.25" stroke="#999" stroke-width="0.8"/>
<line x1="545.88" y1="387.25" x2="550.38" y2="387.25" stroke="#999" stroke-width="0.8"/>
<line x1="625.25" y1="347.75" x2="629.75" y2="347.75" stroke="#999" stroke-width="0.8"/>
<line x1="580.62" y1="354.75" x2="584.38" y2="352.25" stroke="#555" stroke-width="0.4"/>
<line x1="621.25" y1="352.5" x2="624.38" y2="354.75" stroke="#555" stroke-width="0.4"/>
<polyline points="180,460 183.12,465.62" stroke="#555" stroke-width="0.4" fill="none"/>
<polyline points="185,458.12 190,455" stroke="#555" stroke-width="0.4" fill="none"/>
<polyline points="188.12,461.88 191,466.25" stroke="#555" stroke-width="0.4" fill="none"/>
<polyline points="178.75,485.62 181.88,491.25" stroke="#555" stroke-width="0.4" fill="none"/>
<polyline points="184.38,496.88 190,493.75" stroke="#555" stroke-width="0.4" fill="none"/>
<polyline points="190.62,483.12 188.12,488.12" stroke="#555" stroke-width="0.4" fill="none"/>
<polyline points="217.5,443.75 223.12,440.62" stroke="#555" stroke-width="0.4" fill="none"/>
<polyline points="209.38,473.75 213.12,479.38" stroke="#555" stroke-width="0.4" fill="none"/>
<polyline points="233.12,458.75 235.62,463.12 233.12,468.12" stroke="#555" stroke-width="0.4" fill="none"/>
<polyline points="222.5,501.25 218.12,507.5" stroke="#555" stroke-width="0.4" fill="none"/>
<polyline points="227.5,509.38 233.75,506.25" stroke="#555" stroke-width="0.4" fill="none"/>
<rect x="185" y="440.62" width="5" height="3.12" fill="none" stroke="#555" stroke-width="0.4"/>
<rect x="194.38" y="441" width="3.75" height="5" fill="none" stroke="#555" stroke-width="0.4"/>
<rect x="202.5" y="440.62" width="1.88" height="3.75" fill="#444"/>
<rect x="201.25" y="460" width="4" height="5" fill="none" stroke="#555" stroke-width="0.4"/>
<rect x="200" y="485.62" width="5" height="4.38" fill="none" stroke="#555" stroke-width="0.4"/>
<rect x="191.25" y="490.62" width="4.38" height="1.38" fill="#444"/>
<rect x="201.88" y="498.75" width="4" height="12.5" fill="none" stroke="#555" stroke-width="0.4"/>
<rect x="202.12" y="508.75" width="3.5" height="2.5" fill="#555"/>
<rect x="192.5" y="512.5" width="13.38" height="3.12" fill="none" stroke="#555" stroke-width="0.4"/>
<rect x="191.88" y="493.75" width="5.62" height="4.38" fill="none" stroke="#555" stroke-width="0.4"/>
<circle cx="203.88" cy="500.62" r="1.2" fill="none" stroke="#444" stroke-width="0.4"/>
<line x1="167.12" y1="452.88" x2="171.62" y2="452.88" stroke="#999" stroke-width="0.8"/>
<line x1="167.12" y1="479" x2="171.62" y2="479" stroke="#999" stroke-width="0.8"/>
<line x1="187.12" y1="505.38" x2="191.62" y2="505.38" stroke="#999" stroke-width="0.8"/>
<line x1="191.5" y1="449.75" x2="196" y2="449.75" stroke="#999" stroke-width="0.8"/>
<line x1="194" y1="461.25" x2="198.5" y2="461.25" stroke="#999" stroke-width="0.8"/>
<line x1="193.38" y1="477.5" x2="197.88" y2="477.5" stroke="#999" stroke-width="0.8"/>
<line x1="192.75" y1="487.25" x2="197.25" y2="487.25" stroke="#999" stroke-width="0.8"/>
<line x1="147.5" y1="506" x2="152" y2="506" stroke="#999" stroke-width="0.8"/>
<line x1="246.5" y1="485.62" x2="251" y2="485.62" stroke="#999" stroke-width="0.8"/>
<line x1="228.38" y1="501.88" x2="232.88" y2="501.88" stroke="#999" stroke-width="0.8"/>
<polyline points="186.25,564.38 193.12,568.75" stroke="#555" stroke-width="0.4" fill="none"/>
<polyline points="184.38,568.75 181.25,575" stroke="#555" stroke-width="0.4" fill="none"/>
<polyline points="190.62,568.75 194.38,575" stroke="#555" stroke-width="0.4" fill="none"/>
<polyline points="213.12,578.12 209.38,585" stroke="#555" stroke-width="0.4" fill="none"/>
<polyline points="218.12,585 221.88,590" stroke="#555" stroke-width="0.4" fill="none"/>
<polyline points="241.88,543.75 236.88,546.88" stroke="#555" stroke-width="0.4" fill="none"/>
<polyline points="245.62,548.12 248.75,554.38" stroke="#555" stroke-width="0.4" fill="none"/>
<polyline points="238.75,553.75 236,559.38" stroke="#555" stroke-width="0.4" fill="none"/>
<polyline points="238.75,573.12 236,578.75" stroke="#555" stroke-width="0.4" fill="none"/>
<rect x="193.75" y="545.62" width="5" height="3.75" fill="none" stroke="#555" stroke-width="0.4"/>
<rect x="201.88" y="549.38" width="4" height="16.25" fill="none" stroke="#555" stroke-width="0.4"/>
<rect x="202.12" y="561.88" width="3.5" height="3.75" fill="#555"/>
<circle cx="203.88" cy="555.25" r="1.2" fill="none" stroke="#444" stroke-width="0.4"/>
<rect x="195" y="570.62" width="10" height="5.62" fill="none" stroke="#555" stroke-width="0.4"/>
<rect x="195.62" y="569.38" width="3.75" height="1.38" fill="#444"/>
<rect x="230.62" y="526.88" width="5" height="3.75" fill="#444"/>
<rect x="225.62" y="538.12" width="3.75" height="3.75" fill="none" stroke="#444" stroke-width="0.4"/>
<rect x="231.88" y="542.5" width="4.38" height="3.75" fill="none" stroke="#444" stroke-width="0.4"/>
<rect x="226.25" y="550" width="4.38" height="3.75" fill="none" stroke="#444" stroke-width="0.4"/>
<rect x="225.62" y="555.62" width="3.12" height="4.38" fill="none" stroke="#444" stroke-width="0.4"/>
<rect x="225.62" y="562.5" width="5" height="2.5" fill="#555"/>
<rect x="226.25" y="511.25" width="3.75" height="4.38" fill="none" stroke="#555" stroke-width="0.4"/>
<rect x="235.62" y="511.25" width="3.75" height="4.38" fill="#444"/>
<rect x="232.5" y="516.88" width="5" height="4.38" fill="none" stroke="#555" stroke-width="0.4"/>
<line x1="180.88" y1="557.25" x2="185.38" y2="557.25" stroke="#999" stroke-width="0.8"/>
<line x1="168.38" y1="580.62" x2="172.88" y2="580.62" stroke="#999" stroke-width="0.8"/>
<line x1="147.75" y1="556.88" x2="152.25" y2="556.88" stroke="#999" stroke-width="0.8"/>
<line x1="194.62" y1="583.75" x2="199.12" y2="583.75" stroke="#999" stroke-width="0.8"/>
<line x1="242.12" y1="536.62" x2="246.62" y2="536.62" stroke="#999" stroke-width="0.8"/>
<line x1="230.25" y1="556.25" x2="234.75" y2="556.25" stroke="#999" stroke-width="0.8"/>
<line x1="228.38" y1="574.75" x2="232.88" y2="574.75" stroke="#999" stroke-width="0.8"/>
<line x1="228.38" y1="587.5" x2="232.88" y2="587.5" stroke="#999" stroke-width="0.8"/>
<line x1="255.25" y1="559.38" x2="259.75" y2="559.38" stroke="#999" stroke-width="0.8"/>
<line x1="255.25" y1="580.62" x2="259.75" y2="580.62" stroke="#999" stroke-width="0.8"/>
<line x1="249.75" y1="453.75" x2="249.75" y2="462.5" stroke="#666" stroke-width="0.4"/>
<line x1="251.36" y1="453.75" x2="251.36" y2="462.5" stroke="#666" stroke-width="0.4"/>
<line x1="252.96" y1="453.75" x2="252.96" y2="462.5" stroke="#666" stroke-width="0.4"/>
<line x1="254.57" y1="453.75" x2="254.57" y2="462.5" stroke="#666" stroke-width="0.4"/>
<line x1="256.18" y1="453.75" x2="256.18" y2="462.5" stroke="#666" stroke-width="0.4"/>
<line x1="257.79" y1="453.75" x2="257.79" y2="462.5" stroke="#666" stroke-width="0.4"/>
<line x1="259.39" y1="453.75" x2="259.39" y2="462.5" stroke="#666" stroke-width="0.4"/>
<line x1="261" y1="453.75" x2="261" y2="462.5" stroke="#666" stroke-width="0.4"/>
<line x1="249.75" y1="453.75" x2="261" y2="453.75" stroke="#666" stroke-width="0.4"/>
<line x1="249.75" y1="462.5" x2="261" y2="462.5" stroke="#666" stroke-width="0.4"/>
<polyline points="258.75,407.75 255.62,412.5 258.75,418.5" stroke="#555" stroke-width="0.4" fill="none"/>
<polyline points="265.62,410 272.5,406.25" stroke="#555" stroke-width="0.4" fill="none"/>
<polyline points="304.38,406.25 310,410.62 303.75,416.25" stroke="#555" stroke-width="0.4" fill="none"/>
<polyline points="217.5,443.75 224.38,439.75" stroke="#555" stroke-width="0.4" fill="none"/>
<polyline points="233.12,458.75 235.62,463.75 233.12,468.12" stroke="#555" stroke-width="0.4" fill="none"/>
<polyline points="203.75,401.25 208.75,404" stroke="#555" stroke-width="0.4" fill="none"/>
<polyline points="278.75,474 285,477.25 291.25,474" stroke="#555" stroke-width="0.4" fill="none"/>
<polyline points="210,473.75 213.12,479.38" stroke="#555" stroke-width="0.4" fill="none"/>
<polyline points="303.75,428.12 306.88,433.75" stroke="#555" stroke-width="0.4" fill="none"/>
<line x1="220.25" y1="421.5" x2="224.75" y2="421.5" stroke="#999" stroke-width="0.8"/>
<line x1="298.12" y1="426.5" x2="301.88" y2="426.5" stroke="#999" stroke-width="0.8"/>
<line x1="298.12" y1="448.12" x2="301.88" y2="448.12" stroke="#999" stroke-width="0.8"/>
<polyline points="696.25,407.5 700,412.5 696.25,418.5" stroke="#555" stroke-width="0.4" fill="none"/>
<polyline points="651.25,415 656.25,418.75" stroke="#555" stroke-width="0.4" fill="none"/>
<polyline points="653.12,428.75 650,433.75" stroke="#555" stroke-width="0.4" fill="none"/>
<polyline points="725,448.12 721.25,452.5 725,457.5" stroke="#555" stroke-width="0.4" fill="none"/>
<polyline points="743.12,425.62 746.88,431.88" stroke="#555" stroke-width="0.4" fill="none"/>
<polyline points="665.62,474 673.12,477.25 679.38,474" stroke="#555" stroke-width="0.4" fill="none"/>
<polyline points="728.75,403.12 735,400" stroke="#555" stroke-width="0.4" fill="none"/>
<rect x="736.5" y="407.75" width="3.25" height="4.5" fill="none" stroke="#333" stroke-width="0.5"/>
<rect x="731.88" y="416.25" width="3.12" height="3.75" fill="none" stroke="#555" stroke-width="0.4"/>
<rect x="731.88" y="424.38" width="3.12" height="3.75" fill="none" stroke="#555" stroke-width="0.4"/>
<rect x="731.88" y="434.38" width="4.38" height="2.88" fill="none" stroke="#333" stroke-width="0.5"/>
<line x1="652.5" y1="426" x2="656.25" y2="426" stroke="#999" stroke-width="0.8"/>
<line x1="652.5" y1="449" x2="656.25" y2="449" stroke="#999" stroke-width="0.8"/>
<polyline points="193.75,633.12 200,630" stroke="#555" stroke-width="0.4" fill="none"/>
<polyline points="187.5,631.88 190.62,637.5" stroke="#555" stroke-width="0.4" fill="none"/>
<polyline points="195,643.12 201.88,639.38" stroke="#555" stroke-width="0.4" fill="none"/>
<polyline points="224.38,643.12 231.25,638.75" stroke="#555" stroke-width="0.4" fill="none"/>
<polyline points="224.38,628.12 228.12,632.5 231.88,631.25" stroke="#555" stroke-width="0.4" fill="none"/>
<polyline points="232.5,631.88 235.62,636.88" stroke="#555" stroke-width="0.4" fill="none"/>
<polyline points="211.25,613.75 217.5,610.25" stroke="#555" stroke-width="0.4" fill="none"/>
<polyline points="180.62,598.75 183.12,593.75" stroke="#555" stroke-width="0.4" fill="none"/>
<polyline points="186.88,601.25 193.12,597.5" stroke="#555" stroke-width="0.4" fill="none"/>
<rect x="174.38" y="623.12" width="7.5" height="5.62" fill="none" stroke="#555" stroke-width="0.4"/>
<rect x="173.75" y="631.25" width="3.75" height="5" fill="none" stroke="#555" stroke-width="0.4"/>
<rect x="173.75" y="620" width="3.75" height="1.5" fill="#444"/>
<rect x="193.12" y="618.75" width="4.38" height="3.12" fill="none" stroke="#555" stroke-width="0.4"/>
<rect x="224.38" y="619.38" width="3.75" height="3.75" fill="none" stroke="#555" stroke-width="0.4"/>
<rect x="232.5" y="625" width="3.75" height="3.75" fill="none" stroke="#555" stroke-width="0.4"/>
<rect x="249.38" y="618.12" width="3.75" height="3.38" fill="#444"/>
<rect x="236.25" y="618.75" width="11.25" height="3.12" fill="none" stroke="#555" stroke-width="0.4"/>
<circle cx="229.38" cy="625.62" r="1.2" fill="none" stroke="#444" stroke-width="0.4"/>
<rect x="186.88" y="610" width="5" height="3.75" fill="none" stroke="#555" stroke-width="0.4"/>
<rect x="195" y="608.75" width="3.75" height="4.38" fill="none" stroke="#555" stroke-width="0.4"/>
<rect x="201.88" y="610" width="2.5" height="3.75" fill="none" stroke="#555" stroke-width="0.4"/>
<rect x="201.25" y="595.62" width="4.38" height="3.12" fill="none" stroke="#555" stroke-width="0.4"/>
<rect x="237.5" y="610" width="5" height="3.75" fill="none" stroke="#444" stroke-width="0.4"/>
<rect x="226.88" y="610" width="3.12" height="3.75" fill="none" stroke="#444" stroke-width="0.4"/>
<line x1="168.38" y1="602.75" x2="172.88" y2="602.75" stroke="#999" stroke-width="0.8"/>
<line x1="189" y1="606" x2="193.5" y2="606" stroke="#999" stroke-width="0.8"/>
<line x1="193.38" y1="597.25" x2="197.88" y2="597.25" stroke="#999" stroke-width="0.8"/>
<line x1="185.25" y1="651" x2="189.75" y2="651" stroke="#999" stroke-width="0.8"/>
<line x1="215.25" y1="651" x2="219.75" y2="651" stroke="#999" stroke-width="0.8"/>
<line x1="244" y1="635" x2="248.5" y2="635" stroke="#999" stroke-width="0.8"/>
<line x1="207.12" y1="634.75" x2="211.62" y2="634.75" stroke="#999" stroke-width="0.8"/>
<line x1="193.38" y1="625.62" x2="197.88" y2="625.62" stroke="#999" stroke-width="0.8"/>
<line x1="179" y1="634.38" x2="183.5" y2="634.38" stroke="#999" stroke-width="0.8"/>
<line x1="261.75" y1="631.25" x2="266.25" y2="631.25" stroke="#999" stroke-width="0.8"/>
<line x1="256.5" y1="603.12" x2="261" y2="603.12" stroke="#999" stroke-width="0.8"/>
<line x1="233.38" y1="606.5" x2="237.88" y2="606.5" stroke="#999" stroke-width="0.8"/>
<rect x="735.68" y="534.9" width="2.7" height="5.07" fill="none" stroke="#333" stroke-width="0.5"/>
<rect x="735.68" y="564.46" width="2.7" height="4.22" fill="none" stroke="#333" stroke-width="0.5"/>
<rect x="742.77" y="545.03" width="3.72" height="3.89" fill="none" stroke="#555" stroke-width="0.4"/>
<rect x="742.77" y="554.32" width="3.72" height="3.72" fill="none" stroke="#555" stroke-width="0.4"/>
<polyline points="739.39,529.83 746.99,534.39" stroke="#555" stroke-width="0.4" fill="none"/>
<polyline points="787,367.5 793,367.5 793,378.4 787,378.4" stroke="#888" stroke-width="0.4" fill="none"/>
<line x1="787" y1="373" x2="793" y2="373" stroke="#888" stroke-width="0.4"/>
<rect x="504.38" y="422.5" width="2.5" height="3.75" fill="#444"/>
<rect x="510" y="423.12" width="11.25" height="2.88" fill="none" stroke="#555" stroke-width="0.4"/>
<rect x="499.38" y="427.5" width="3.75" height="7.5" fill="none" stroke="#777" stroke-width="0.4"/>
<rect x="526.25" y="423.75" width="3.75" height="3.75" fill="none" stroke="#555" stroke-width="0.4"/>
<rect x="551.88" y="423.5" width="3.12" height="3.38" fill="none" stroke="#555" stroke-width="0.4"/>
<rect x="572.5" y="423.12" width="3.75" height="3.12" fill="#444"/>
<polyline points="523.12,436.88 519.38,443.12" stroke="#555" stroke-width="0.4" fill="none"/>
<polyline points="541.88,446.25 548.75,442.75" stroke="#555" stroke-width="0.4" fill="none"/>
<polyline points="550.62,445.25 556.88,449.38" stroke="#555" stroke-width="0.4" fill="none"/>
<polyline points="561.88,436.88 558.12,443.12" stroke="#555" stroke-width="0.4" fill="none"/>
<polyline points="549.38,436.88 555,440" stroke="#555" stroke-width="0.4" fill="none"/>
<line x1="509.62" y1="443.5" x2="514.12" y2="443.5" stroke="#999" stroke-width="0.8"/>
<line x1="533.38" y1="457.5" x2="537.88" y2="457.5" stroke="#999" stroke-width="0.8"/>
<line x1="560.88" y1="457.5" x2="565.38" y2="457.5" stroke="#999" stroke-width="0.8"/>
<line x1="589" y1="457.5" x2="593.5" y2="457.5" stroke="#999" stroke-width="0.8"/>
<line x1="526.5" y1="433.12" x2="531" y2="433.12" stroke="#999" stroke-width="0.8"/>
<line x1="551.5" y1="431.88" x2="556" y2="431.88" stroke="#999" stroke-width="0.8"/>
<line x1="565.25" y1="439" x2="569.75" y2="439" stroke="#999" stroke-width="0.8"/>
<line x1="537.12" y1="440.62" x2="541.62" y2="440.62" stroke="#999" stroke-width="0.8"/>
<line x1="508.38" y1="478.5" x2="512.88" y2="478.5" stroke="#999" stroke-width="0.8"/>
<line x1="597.75" y1="427.5" x2="602.25" y2="427.5" stroke="#999" stroke-width="0.8"/>
<rect x="417.5" y="422.5" width="17.5" height="4" fill="none" stroke="#555" stroke-width="0.4"/>
<rect x="426.25" y="423" width="4.38" height="3" fill="#444"/>
<rect x="431.5" y="427.5" width="3.5" height="8.75" fill="none" stroke="#555" stroke-width="0.4"/>
<rect x="403.75" y="424.38" width="3.75" height="3.75" fill="none" stroke="#555" stroke-width="0.4"/>
<polyline points="402.5,436.88 407.5,440" stroke="#555" stroke-width="0.4" fill="none"/>
<polyline points="411.88,438.12 415.62,443.75" stroke="#555" stroke-width="0.4" fill="none"/>
<rect x="459.38" y="431.88" width="4.38" height="10.62" fill="none" stroke="#777" stroke-width="0.4"/>
<rect x="471" y="431.88" width="4" height="10.62" fill="none" stroke="#777" stroke-width="0.4"/>
<rect x="448.75" y="421" width="9.38" height="2.5" fill="none" stroke="#555" stroke-width="0.4"/>
<rect x="475.62" y="421" width="10" height="2.5" fill="none" stroke="#555" stroke-width="0.4"/>
<line x1="421.5" y1="446.25" x2="426" y2="446.25" stroke="#999" stroke-width="0.8"/>
<line x1="445.25" y1="436.88" x2="449.75" y2="436.88" stroke="#999" stroke-width="0.8"/>
<line x1="480.25" y1="435.62" x2="484.75" y2="435.62" stroke="#999" stroke-width="0.8"/>
<line x1="421.5" y1="478.5" x2="426" y2="478.5" stroke="#999" stroke-width="0.8"/>
<line x1="447.12" y1="468.75" x2="451.62" y2="468.75" stroke="#999" stroke-width="0.8"/>
<line x1="477.75" y1="468.75" x2="482.25" y2="468.75" stroke="#999" stroke-width="0.8"/>
<line x1="403.38" y1="433.12" x2="407.88" y2="433.12" stroke="#999" stroke-width="0.8"/>
<line x1="397.75" y1="458.12" x2="402.25" y2="458.12" stroke="#999" stroke-width="0.8"/>
<rect x="198.33" y="424.67" width="4.67" height="6.67" fill="none" stroke="#555" stroke-width="0.4"/>
<rect x="204.67" y="429.33" width="7.33" height="6.17" fill="none" stroke="#555" stroke-width="0.4"/>
<rect x="205.83" y="423.83" width="5" height="4.17" fill="none" stroke="#555" stroke-width="0.4"/>
<line x1="155" y1="520.33" x2="155" y2="529.17" stroke="#777" stroke-width="0.45"/>
<line x1="157.17" y1="520.33" x2="157.17" y2="529.17" stroke="#777" stroke-width="0.45"/>
<line x1="155" y1="530.5" x2="155" y2="541.33" stroke="#777" stroke-width="0.45"/>
<line x1="157.17" y1="530.5" x2="157.17" y2="541.33" stroke="#777" stroke-width="0.45"/>
<line x1="274.17" y1="503.83" x2="274.17" y2="519.33" stroke="#777" stroke-width="0.45"/>
<line x1="276.17" y1="503.83" x2="276.17" y2="519.33" stroke="#777" stroke-width="0.45"/>
<line x1="274.17" y1="526.33" x2="274.17" y2="544.33" stroke="#666" stroke-width="0.45"/>
<line x1="276.17" y1="526.33" x2="276.17" y2="544.33" stroke="#666" stroke-width="0.45"/>
<line x1="274.17" y1="554.67" x2="274.17" y2="566.67" stroke="#666" stroke-width="0.45"/>
<line x1="276.17" y1="554.67" x2="276.17" y2="566.67" stroke="#666" stroke-width="0.45"/>
<rect x="242.5" y="507.67" width="5.83" height="5.83" fill="none" stroke="#555" stroke-width="0.4"/>
<rect x="250" y="509.33" width="5" height="4.17" fill="none" stroke="#555" stroke-width="0.4"/>
<rect x="258.33" y="509" width="3.33" height="3.67" fill="none" stroke="#555" stroke-width="0.4"/>
<rect x="242.5" y="518.5" width="11.67" height="3.83" fill="none" stroke="#555" stroke-width="0.4"/>
<circle cx="245.33" cy="516" r="1.2" fill="none" stroke="#444" stroke-width="0.4"/>
<line x1="227.5" y1="504.33" x2="232.5" y2="504.33" stroke="#999" stroke-width="0.8"/>
<line x1="264.17" y1="515.17" x2="269.17" y2="515.17" stroke="#999" stroke-width="0.8"/>
<line x1="278.83" y1="511" x2="282.83" y2="511" stroke="#999" stroke-width="0.8"/>
<line x1="278.83" y1="537.67" x2="282.83" y2="537.67" stroke="#999" stroke-width="0.8"/>
<rect x="654.12" y="385.62" width="3.75" height="3.75" fill="none" stroke="#555" stroke-width="0.4"/>
<rect x="661" y="396.88" width="4.38" height="5" fill="none" stroke="#555" stroke-width="0.4"/>
<rect x="653.5" y="399.38" width="4.38" height="3.12" fill="none" stroke="#555" stroke-width="0.4"/>
<rect x="663.5" y="385.25" width="2" height="3.5" fill="#444"/>
<circle cx="662" cy="389" r="1.6" fill="none" stroke="#444" stroke-width="0.4"/>
<rect x="630.38" y="391.88" width="4.38" height="6.88" fill="none" stroke="#555" stroke-width="0.4"/>
<rect x="617.88" y="396.88" width="7.5" height="3.12" fill="none" stroke="#777" stroke-width="0.4"/>
<polyline points="643.5,383.12 649.75,380" stroke="#555" stroke-width="0.4" fill="none"/>
<polyline points="652.25,390.62 648.5,396.25" stroke="#555" stroke-width="0.4" fill="none"/>
<polyline points="641.62,410.62 648.5,406.88" stroke="#555" stroke-width="0.4" fill="none"/>
<polyline points="651,414.38 657.25,418.75" stroke="#555" stroke-width="0.4" fill="none"/>
<polyline points="596,417.5 601.62,414.75" stroke="#555" stroke-width="0.4" fill="none"/>
<line x1="652.5" y1="369.75" x2="657" y2="369.75" stroke="#999" stroke-width="0.8"/>
<line x1="641.88" y1="397.75" x2="646.38" y2="397.75" stroke="#999" stroke-width="0.8"/>
<line x1="696.25" y1="347.25" x2="700.75" y2="347.25" stroke="#999" stroke-width="0.8"/>
<line x1="655" y1="394" x2="659.5" y2="394" stroke="#999" stroke-width="0.8"/>
</g>

<!-- green arrows -->
<g fill="#27a05d" stroke="none">
<rect x="350.6" y="291.4" width="2.6" height="32"/>
<path d="M344.9,322 L351.9,324.2 L358.9,322 L351.9,337.2 Z"/>
<rect x="601.7" y="291.4" width="2.6" height="32"/>
<path d="M596,321.6 L603,323.8 L610,321.6 L603,336.8 Z"/>
<rect x="92.9" y="529.1" width="32" height="2.6"/>
<path d="M123.3,523.9 L125.5,530.4 L123.3,536.9 L139.3,530.4 Z"/>
<rect x="833" y="484.5" width="31.2" height="2.6"/>
<path d="M834.4,479.4 L832.2,485.8 L834.4,492.4 L818,485.8 Z"/>
<path d="M315,510.9 L330.4,517.1 L326.6,520.8 L347.8,542.3 L346,544.1 L324.8,522.7 L321.1,526.7 Z"/>
<path d="M646.1,508.9 L639.3,524.2 L635.6,520.4 L615.3,541.5 L613.5,539.7 L633.7,518.6 L629.6,515.3 Z"/>
</g>

<!-- trees -->

<g transform="translate(415.5,599.4)">
<path fill="#0f7a73" d="M0,-24.6 c-2.2,-0.6 -5.2,0.6 -5.6,3.4 c-2.8,0.8 -3.6,3.4 -3,5.4 c-0.8,2.2 -0.6,5 0.4,6.6 c0.4,1.8 2.4,2.8 4.4,2.4 c1,0.6 2,0.4 2.8,-0.2 l0,7 l2,0 l0,-7 c0.8,0.6 1.8,0.8 2.8,0.2 c2,0.4 4,-0.6 4.4,-2.4 c1,-1.6 1.2,-4.4 0.4,-6.6 c0.6,-2 -0.2,-4.6 -3,-5.4 c-0.4,-2.8 -3.4,-4 -5.6,-3.4 Z"/>
<path fill="#0f7a73" d="M-12.2,0.2 L-9.6,-3.6 L-8.2,-1.6 L-6.6,-4 L-5,-1.4 L-3.4,-3.2 L-1.6,-1 L1.6,-1 L3.4,-3.2 L5,-1.4 L6.6,-4 L8.2,-1.6 L9.6,-3.6 L12.2,0.2 Z"/>
<g stroke="#c9f5ee" stroke-width="1.1" fill="none" stroke-linecap="round">
<path d="M0.9,-4 L0.9,-19"/><path d="M0.9,-13.6 L-2.6,-17"/><path d="M0.9,-9.6 L4,-12.6"/><path d="M0.9,-16.4 L2.4,-18"/>
<path d="M-3,-21.4 L-2.2,-19.6"/><path d="M4.6,-16.4 L6.2,-15.4"/><path d="M-5.4,-11.6 L-4.8,-9.8"/>
</g>
</g>
<g transform="translate(547.5,599.4)">
<path fill="#0f7a73" d="M0,-24.6 c-2.2,-0.6 -5.2,0.6 -5.6,3.4 c-2.8,0.8 -3.6,3.4 -3,5.4 c-0.8,2.2 -0.6,5 0.4,6.6 c0.4,1.8 2.4,2.8 4.4,2.4 c1,0.6 2,0.4 2.8,-0.2 l0,7 l2,0 l0,-7 c0.8,0.6 1.8,0.8 2.8,0.2 c2,0.4 4,-0.6 4.4,-2.4 c1,-1.6 1.2,-4.4 0.4,-6.6 c0.6,-2 -0.2,-4.6 -3,-5.4 c-0.4,-2.8 -3.4,-4 -5.6,-3.4 Z"/>
<path fill="#0f7a73" d="M-12.2,0.2 L-9.6,-3.6 L-8.2,-1.6 L-6.6,-4 L-5,-1.4 L-3.4,-3.2 L-1.6,-1 L1.6,-1 L3.4,-3.2 L5,-1.4 L6.6,-4 L8.2,-1.6 L9.6,-3.6 L12.2,0.2 Z"/>
<g stroke="#c9f5ee" stroke-width="1.1" fill="none" stroke-linecap="round">
<path d="M0.9,-4 L0.9,-19"/><path d="M0.9,-13.6 L-2.6,-17"/><path d="M0.9,-9.6 L4,-12.6"/><path d="M0.9,-16.4 L2.4,-18"/>
<path d="M-3,-21.4 L-2.2,-19.6"/><path d="M4.6,-16.4 L6.2,-15.4"/><path d="M-5.4,-11.6 L-4.8,-9.8"/>
</g>
</g>

<!-- playground -->
<g id="playground">
<path fill="#0f7f78" d="M475.6,602 L491.8,614.4 L460,614.4 Z"/>
<rect x="460" y="618" width="31.2" height="35.6" fill="#0f7f78"/>
<path fill="#0f7f78" d="M491.2,627.6 C499,640 502,644.6 507,644.6 L513.2,644.6 L513.2,653.6 L491.2,653.6 Z"/>
<path fill="none" stroke="#e8f7f5" stroke-width="1.6" d="M469.2,653.6 L469.2,632 C469.2,622 482.4,622 482.4,632 L482.4,653.6"/>
<path fill="none" stroke="#e8f7f5" stroke-width="1.4" d="M472.6,653.6 L472.6,633 C472.6,626 479,626 479,633 L479,653.6"/>
<g stroke="#e8f7f5" stroke-width="1.5"><line x1="469.2" y1="640.6" x2="482.4" y2="640.6"/><line x1="469.2" y1="645" x2="482.4" y2="645"/><line x1="469.2" y1="649.4" x2="482.4" y2="649.4"/></g>
<g stroke="#e8f7f5" stroke-width="1.5"><line x1="464.4" y1="641" x2="464.4" y2="653.6"/><line x1="487.4" y1="641" x2="487.4" y2="653.6"/></g>
</g>
<g font-size="13.6" fill="#1a1a1a">
<text x="486.2" y="672" text-anchor="middle" textLength="54" lengthAdjust="spacingAndGlyphs">Детская</text>
<text x="486.8" y="693.8" text-anchor="middle" textLength="67.5" lengthAdjust="spacingAndGlyphs">площадка</text>
</g>

<!-- watermark overlay -->
<defs><filter id="wmsoft" x="340" y="400" width="300" height="320" filterUnits="userSpaceOnUse"><feGaussianBlur stdDeviation="0.7"/></filter></defs>
<g id="wm" fill="#e2e2e2" fill-opacity="0.5" filter="url(#wmsoft)">
<path fill-rule="evenodd" stroke="#e2e2e2" stroke-opacity="0.5" stroke-width="0" d="
M478.6,421.4 Q486.0,417.2 493.4,421.4 L556.6,457.8 Q564.0,462.0 564.0,470.5 L564.0,539.1 Q564.0,547.6 556.6,551.8 L493.4,588.4 Q486.0,592.6 478.6,588.4 L415.4,551.8 Q408.0,547.6 408.0,539.1 L408.0,470.5 Q408.0,462.0 415.4,457.8 Z
M486,454.5 L530.6,480 L510.6,491.3 L486,477.1 L461.4,491.3 L461.4,519.7 L486,533.9 L510.6,519.7 L530.6,531 L486,556.5 L441.4,531 L441.4,480 Z M486.3,534.6 L487.2,534.1 L487.2,555.8 L486.3,556.3 Z"/>
<g font-size="60" font-weight="bold">
<text x="486" y="656" text-anchor="middle" textLength="258" lengthAdjust="spacingAndGlyphs">СТРОИМ</text>
<text x="488.5" y="723" text-anchor="middle" textLength="206" lengthAdjust="spacingAndGlyphs">ГРУПП</text>
</g>
</g>
<g id="toplabels" filter="url(#soft)">
<text x="416.2" y="462" font-size="6.6" font-weight="bold" fill="#4c4c4c" stroke="#4c4c4c" stroke-width="0.28" textLength="8" lengthAdjust="spacingAndGlyphs">2Д</text>
<rect x="425.1" y="455.8" width="6.2" height="1.8" fill="#777"/>
<rect x="427.9" y="455.8" width="0.6" height="1.8" fill="#eee"/>
<rect x="425.1" y="458.35" width="6.2" height="1.8" fill="#777"/>
<rect x="427.9" y="458.35" width="0.6" height="1.8" fill="#eee"/>
<rect x="425.1" y="460.9" width="6.2" height="1.8" fill="#777"/>
<rect x="427.9" y="460.9" width="0.6" height="1.8" fill="#eee"/>
<text x="444.2" y="453.6" font-size="6.6" font-weight="bold" fill="#4c4c4c" stroke="#4c4c4c" stroke-width="0.28" textLength="6.8" lengthAdjust="spacingAndGlyphs">2Г</text>
<rect x="451.9" y="447.4" width="6.2" height="1.8" fill="#777"/>
<rect x="454.7" y="447.4" width="0.6" height="1.8" fill="#eee"/>
<rect x="451.9" y="449.95" width="6.2" height="1.8" fill="#777"/>
<rect x="454.7" y="449.95" width="0.6" height="1.8" fill="#eee"/>
<rect x="451.9" y="452.5" width="6.2" height="1.8" fill="#777"/>
<rect x="454.7" y="452.5" width="0.6" height="1.8" fill="#eee"/>
<text x="473.6" y="453.6" font-size="6.6" font-weight="bold" fill="#4c4c4c" stroke="#4c4c4c" stroke-width="0.28" textLength="10" lengthAdjust="spacingAndGlyphs">2Ж</text>
<rect x="484.5" y="447.4" width="6.2" height="1.8" fill="#777"/>
<rect x="487.3" y="447.4" width="0.6" height="1.8" fill="#eee"/>
<rect x="484.5" y="449.95" width="6.2" height="1.8" fill="#777"/>
<rect x="487.3" y="449.95" width="0.6" height="1.8" fill="#eee"/>
<rect x="484.5" y="452.5" width="6.2" height="1.8" fill="#777"/>
<rect x="487.3" y="452.5" width="0.6" height="1.8" fill="#eee"/>
<text x="503.2" y="460" font-size="6.6" font-weight="bold" fill="#4c4c4c" stroke="#4c4c4c" stroke-width="0.28" textLength="7.6" lengthAdjust="spacingAndGlyphs">2Е</text>
<rect x="511.7" y="453.8" width="6.2" height="1.8" fill="#777"/>
<rect x="514.5" y="453.8" width="0.6" height="1.8" fill="#eee"/>
<rect x="511.7" y="456.35" width="6.2" height="1.8" fill="#777"/>
<rect x="514.5" y="456.35" width="0.6" height="1.8" fill="#eee"/>
<rect x="511.7" y="458.9" width="6.2" height="1.8" fill="#777"/>
<rect x="514.5" y="458.9" width="0.6" height="1.8" fill="#eee"/>
</g>
</svg>
</body>
</html>
